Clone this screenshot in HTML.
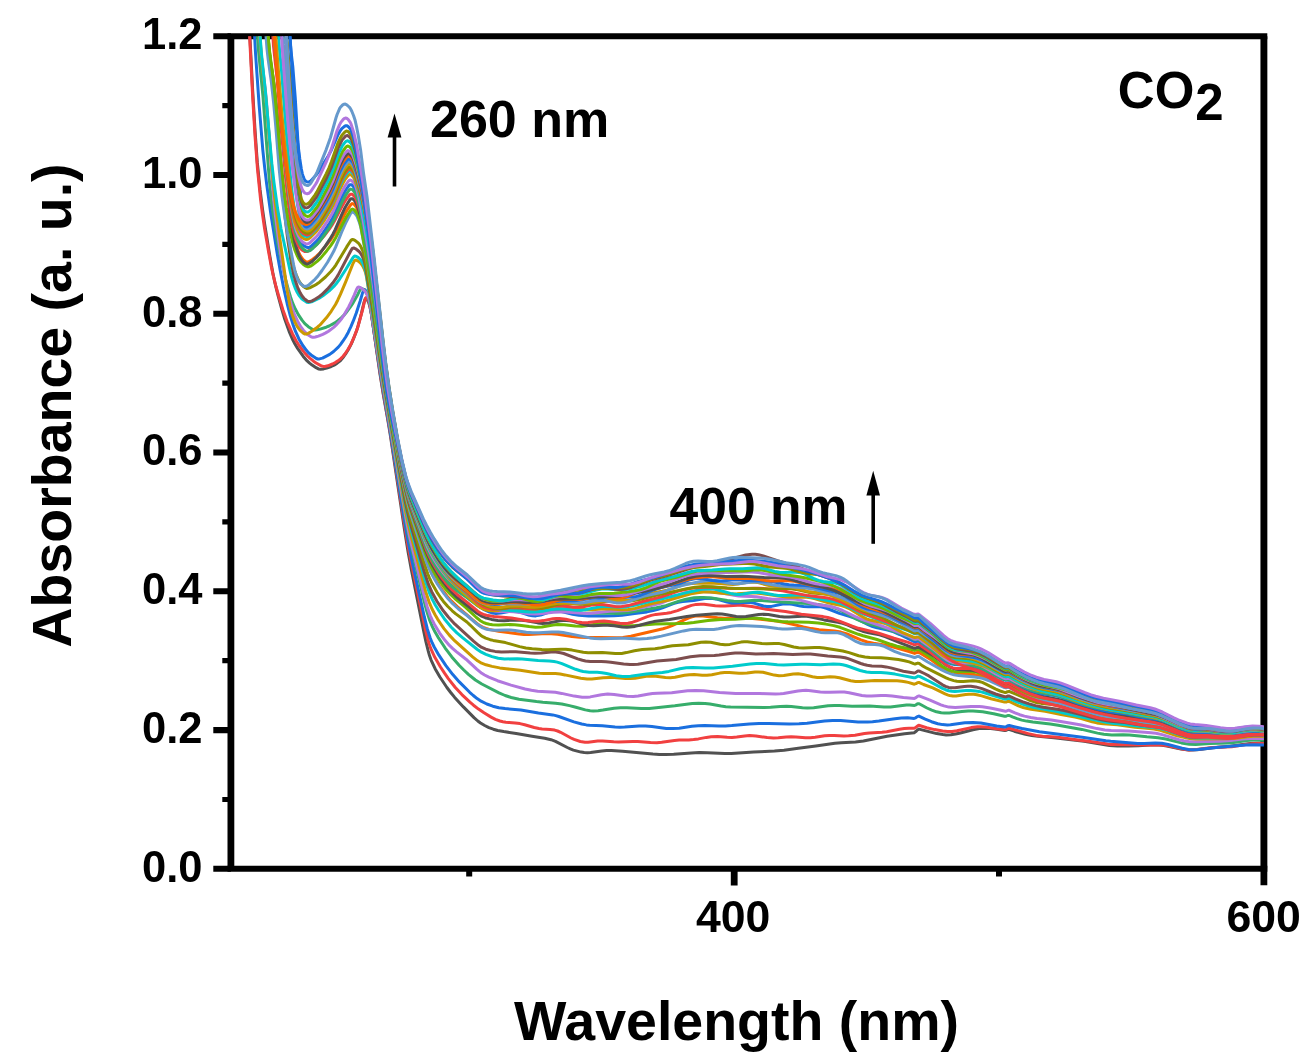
<!DOCTYPE html>
<html lang="en"><head><meta charset="utf-8"><title>UV-Vis absorbance spectra - CO2</title>
<style>html,body{margin:0;padding:0;background:#fff}body{width:1314px;height:1063px;overflow:hidden}svg{display:block;filter:blur(0.5px)}</style>
</head><body>
<svg width="1314" height="1063" viewBox="0 0 1314 1063">
<defs><clipPath id="plot"><rect x="230.9" y="36.3" width="1033.0" height="832.5"/></clipPath></defs>
<rect width="1314" height="1063" fill="#fff"/>
<g stroke="#000" fill="none" stroke-linecap="butt">
<path stroke-width="6.1" d="M227.5 36.3H1267.3"/>
<path stroke-width="6.0" d="M227.5 868.8H1267.3"/>
<path stroke-width="6.8" d="M230.9 36.3V868.8"/>
<path stroke-width="6.9" d="M1263.9 36.3V868.8"/>
<path stroke-width="6.1" d="M213.3 36.3H230.9M213.3 175.0H230.9M213.3 313.8H230.9M213.3 452.5H230.9M213.3 591.3H230.9M213.3 730.1H230.9M213.3 868.8H230.9"/>
<path stroke-width="5.2" d="M222.3 105.7H230.9M222.3 244.4H230.9M222.3 383.1H230.9M222.3 521.9H230.9M222.3 660.7H230.9M222.3 799.5H230.9"/>
<path stroke-width="6.8" d="M734.2 868.8V885.4M1263.9 868.8V885.2"/>
<path stroke-width="6.0" d="M469.2 868.8V876.4M999.0 868.8V876.4"/>
</g>
<g clip-path="url(#plot)" fill="none" stroke-width="3.0" stroke-linejoin="round" stroke-linecap="round">
<path stroke="#515151" d="M248.5 9L252.7 91.2L255.1 131.4L257.3 162.4L260.1 190L262.5 209.2L264.6 223.6L269.7 255.3L272.8 272.7L275.1 283.7L277.8 294.6L281.6 308.5L284.8 319.2L289.1 331.3L292.9 340.1L295.1 344.3L297.6 348.4L303.1 356.2L306.1 359.8L309.6 363.1L312.1 365.1L316.1 367.7L318.9 369.1L320.4 369.3L323.6 368.9L326.7 368.1L331.2 366.5L334.1 365.1L336.9 363.4L339.5 361.4L340.7 360.3L342.8 357.8L345.6 353.9L348.2 349.8L351.2 344.1L353.7 338.2L356.6 330.7L358 326.2L361.3 313.8L363.9 302.9L364.8 299.8L365.5 298.6L367.1 299.6L368.7 302.5L370 307.1L371.5 314.7L379.9 373.3L383.2 394L387.7 419.2L390.3 434.9L404.5 529.8L408.1 552L411.3 569.4L423.9 632.1L425.9 641.6L428.2 650.9L429.5 655.6L431.1 660.1L435.1 668.7L439.9 677L446.9 687.5L450.7 692.5L454.7 697.4L463.4 706.9L474 717.6L477.8 721L480.5 723L484.7 725.5L488.9 727.6L493.3 729.2L497.7 730.5L503.7 731.6L516.2 733.5L532 736.3L544.7 738.3L551 739.7L555.5 741.3L567.3 747.5L570.3 748.9L573.4 750.1L581.1 752.1L584.2 752.5L587.4 752.7L590.6 752.4L601.8 750.9L606.6 750.6L611.4 750.6L622.6 751.2L652.9 754.1L659.3 754.4L665.7 754.4L673.7 754.2L691.3 752.9L699.3 752.6L707.3 752.7L724.9 753.5L731.3 753.5L753.7 752L774.5 751.1L784 750.2L798.3 748.2L815.8 746L834.9 743.2L841.3 742.7L855.5 741.9L863.4 741L887.1 736.2L904.6 733.7L914.2 732.7L915.8 731.6L917.4 730L919 729.1L936.6 733.6L942.9 734.6L946.1 734.9L950.9 734.7L955.6 734L960.4 733L972.9 729.7L979.3 728.6L985.7 728.3L990.5 728.5L996.9 729.2L1004.8 730.5L1006.4 730.2L1008 729.4L1009.6 729.5L1014.3 731.2L1020.7 733.1L1025.4 734.3L1031.7 735.4L1038.1 736.3L1053.9 737.8L1084.1 741.3L1109.4 745.4L1117.4 745.9L1128.6 746.1L1138.2 745.8L1154.2 744.8L1159 744.9L1162.2 745.2L1166.9 746L1181.1 749.1L1189 750L1197 749.7L1212.9 747.8L1230.3 746.2L1246.3 744L1252.7 743.3L1259.1 743L1268.7 742.9"/>
<path stroke="#F14040" d="M248.2 9L252.8 99.2L255.1 137.1L257.5 169.1L260.6 199.8L262.5 214.3L264.6 228.7L268.4 250.8L271.3 266.6L273.4 276.1L276.1 287L279.2 297.7L283 310L287.3 322L292.4 333.7L296.1 340.7L298.7 344.8L301.4 348.7L304.4 352.4L307.5 356L309.8 358.2L313.5 361.2L316.1 363L320.3 365.4L321.7 366L323.2 366.4L324.8 366.5L327.9 365.8L332.4 364L335.3 362.6L338 360.8L340.5 358.8L342.9 356.5L344.9 354L347.6 350L350.1 345.8L352.2 341.5L354.7 335.5L357.5 328L359.3 321.9L362.6 309.6L364.4 301.8L365.4 298.7L366.1 297.5L367.7 299L368.4 300.5L369.4 303.5L371.2 312.8L380.3 374.5L383.4 393.5L390.3 432.9L404.2 523L407.6 543.6L411.2 562.5L423.8 622L425.5 629.9L427.8 639.2L429.2 643.9L430.7 648.4L434.7 657.1L440.3 666.7L444.7 673.4L448.3 678.6L455.3 687.5L461.9 694.6L469.9 702.2L473.5 705.2L478.5 709.1L484 712.8L491.1 717.1L495.4 719.3L499.9 721L502.9 721.7L505.9 722.2L515.2 722.9L519.9 723.6L524.7 724.7L534.2 727.5L538.9 728.5L542.1 728.9L550 729.4L554.6 730.1L557.6 731L560.6 732.3L571 738L574.1 739.4L580.3 741.5L585 742.2L588.1 742.3L597.7 741.1L602.5 740.9L613.7 741.8L618.5 742L632.9 741.4L637.7 741.4L650.5 742.6L656.9 742.7L661.7 742.2L674.5 740.4L679.2 740.1L688.8 740L693.6 739.6L698.4 738.9L706.4 737.4L711.2 736.8L717.6 736.6L727.2 737.3L732 737.4L736.8 737L744.7 736L749.5 735.6L755.9 735.9L767.1 737.6L773.5 738L778.3 737.8L786.3 737L791.1 736.8L795.9 737L805.5 737.7L810.3 737.7L815.1 737.2L824.7 735.8L829.5 735.4L834.3 735.4L843.9 735.9L848.6 735.8L855 735.2L864.5 733.6L869.3 733L882 732.2L886.7 731.7L899.5 729.3L904.3 728.6L909.1 728.2L913.9 728.3L915.5 727.7L917.1 726.3L918.7 725.3L926.6 727.7L934.6 729.6L942.6 731L947.4 731.4L952.1 731.4L956.9 730.8L971.2 727.6L977.5 726.7L980.7 726.7L985.5 727.1L996.7 728.8L1004.6 729.7L1006.2 729.5L1007.8 728.5L1009.3 728.2L1028.3 733.6L1036.2 735.4L1042.6 736.2L1055.3 737L1061.6 737.7L1075.9 739.7L1088.6 741.2L1107.6 744.1L1110.8 744.5L1115.6 744.6L1130 744.7L1146 745.1L1155.6 744.8L1161.9 745L1168.3 745.8L1182.4 749L1188.7 749.9L1196.7 749.6L1206.3 748.3L1212.6 747.6L1231.7 746.7L1236.5 746L1246 744.4L1252.4 743.7L1258.8 743.5L1268.4 743.6"/>
<path stroke="#1A6FDF" d="M253.2 9L255.5 53L259.1 104.7L262.8 149.8L264.5 166L266.6 183.6L270.6 212.4L277.2 253.5L280 269.3L283.4 286.6L287.2 303.8L290 314.7L292.8 323.9L295.5 331.4L298.8 338.7L302.8 345.5L306.6 350.6L308.7 352.9L311.1 355L316.4 358.5L317.8 359L319.4 358.9L322.5 358.1L329.7 354.4L333.6 351.5L338.3 347.1L340.4 344.6L343.2 340.7L345.8 336.7L348.2 332.4L350.9 326.6L353.4 320.7L356.2 313.2L360.2 301L362.4 293.3L363.6 290.4L364.5 289.5L366 290.8L366.8 292.3L367.5 293.8L368.4 296.9L370.3 306.1L381 377.3L389.6 427.8L404.6 521L407.3 536.8L411.9 560.4L424.3 616.7L427.4 629.2L430.3 638.3L432.1 642.7L434.2 647L438.9 655.2L445.9 665.7L452.8 674.6L459.3 681.9L469.7 692.3L473.3 695.5L477.1 698.6L481.1 701.2L486.8 704L492.8 706.2L498.8 707.7L505 708.6L520.9 710L538.4 712.9L552.7 714.9L555.8 715.6L558.8 716.5L573.9 721.9L581.7 724L586.4 724.9L589.5 725.3L602.3 725.8L615.1 727L619.9 727.2L624.7 727.1L639.1 726L645.5 725.9L651.9 726.4L666.3 728.4L672.7 728.6L679.1 728.2L691.9 726.3L698.3 725.7L704.6 725.5L719 726L725.4 725.9L731.8 725.5L749.4 723.9L759 723.4L768.6 723.4L789.4 723.9L799 723.8L807 723.2L824.6 721.1L832.6 720.5L840.6 720.5L858.1 721.9L867.7 722.1L872.5 721.8L878.9 721.1L894.9 718.7L901.3 717.9L907.7 717.8L914.1 718.4L915.7 717.8L917.3 716.6L918.9 716.1L925.2 719.1L931.5 721.7L937.8 723.7L942.5 724.6L947.3 724.9L950.5 724.8L964.9 722.8L972.9 722.4L980.9 723L996.7 725.9L1004.6 727L1006.1 726.7L1007.7 725.7L1009.3 725.5L1014.1 726.7L1022 728.5L1039.4 731.7L1082.3 737.2L1105.9 740.8L1110.7 741.3L1137.8 743.4L1144.2 743.5L1155.4 743L1161.8 743.3L1168.1 744.5L1182.1 748.3L1188.4 749.5L1193.2 749.7L1198 749.6L1218.7 747.3L1245.8 744.9L1253.8 744.8L1268.2 745.2"/>
<path stroke="#37AD6B" d="M256.2 9L257.4 34.8L258.5 50.7L263 96.9L269.3 179.7L271.4 201.1L275 226.7L277 239.4L279.1 250.5L281.8 263.1L285.8 280.2L288.3 289.5L290.6 297.2L292.7 303.2L295.3 309L298.3 314.6L301.8 319.9L304.8 323.6L308.3 326.7L312.3 329.3L313.8 329.9L315.3 330L316.9 329.8L320.1 329.1L326.2 327.2L329.1 326L334.8 322.9L337.5 321L341.2 317.9L343.5 315.7L345.6 313.3L350.4 306.8L353.1 302.8L357.8 294.4L359.9 290.1L360.8 288.9L362.1 288.6L363.6 289.5L365.8 291.9L366.7 293.4L368.4 297.9L370 303.9L381.8 379.8L389.3 422.4L406.6 525L409.1 537.6L411.6 548.5L423.8 599.9L426.2 609.2L429.5 619.9L432.7 627.3L434.8 631.5L438 637.1L445 647.8L451.8 656.9L459.3 665.5L463.8 670L468.4 674.3L475.4 680L481.8 684L499 692.8L505.1 695.5L511.2 697.5L519 699.2L536.5 701.6L542.8 702.3L555.5 703.2L561.8 704L569.5 705.6L575.8 707.2L585.3 709.9L590.1 710.8L593.3 711L598.1 710.8L602.9 710.1L614.1 708.2L620.5 707.7L626.9 707.7L641.3 708.6L649.3 708.4L674.8 705.8L692.3 703.6L698.7 703.2L705.1 703.5L709.9 704.1L721.1 706.1L725.8 706.7L730.6 707L764.1 707.5L770.5 707.2L780.1 706.4L786.5 706.2L791.3 706.5L802.5 707.7L807.3 708L813.7 707.7L828.1 705.7L834.5 705.4L839.3 705.5L852.1 706.2L869.7 706.1L884.1 706.9L890.5 706.9L906.5 705.1L909.7 705L914.5 705.5L916 704.8L917.6 703.7L919.2 703.7L927 708L931.8 710.1L936.5 711.8L941.2 712.8L944.4 713.1L949.2 713.1L961.9 711.5L968.3 711.1L973.1 711.1L982.7 711.8L993.7 713.7L1004.6 716.3L1006.1 716.2L1007.7 715.5L1009.3 715.5L1012.4 716.9L1017.1 718.6L1021.8 720.1L1026.6 721.1L1032.8 722.1L1050.2 724L1058.2 725.2L1081.9 729.4L1097.5 733.1L1103.8 734.3L1111.8 735L1123 734.8L1129.4 735L1146.9 736.8L1158.1 737.7L1165.9 739L1181.4 742.9L1189.3 744.3L1195.7 744.5L1210 743.6L1229.2 743L1235.6 742.3L1246.7 740.6L1253.1 740.1L1259.5 740.1L1269.1 740.5"/>
<path stroke="#B177DE" d="M258.7 9L259.7 34.7L260.7 49L262 62.2L265.1 87.6L266.5 101.5L269.8 144.6L272.6 186.9L275.1 213L278.6 240.2L280.5 253L282.4 264.1L285.7 281.4L288 292.4L290.4 301.8L292.7 309.5L294.9 315.4L297.6 321.2L300.7 326.7L303.5 330.5L306.8 333.9L310.7 336.6L312.1 337.2L313.7 337.3L315.3 337L318.4 336.1L322.8 334.3L325.7 332.9L328.5 331.2L333.7 327.4L336 325.2L339.3 321.6L341.3 319.1L344 315.1L348.8 306.7L350.9 302.4L354.2 295.1L356.7 289.2L357.4 287.8L358.5 287L360.1 287.4L361.5 288.2L364 290.3L365.1 291.5L366.9 294.3L368.9 298.7L369.4 300.3L370 303.2L382.2 380.7L406.5 521.1L409 533.7L411.5 544.6L424.2 595.9L427.2 606.7L430.3 615.8L432.3 620.1L434.5 624.4L439.5 632.8L445.2 640.6L449.4 645.4L452.8 648.6L456.3 651.6L466 659.2L476.7 669.2L481.8 673.3L484.6 675L488.8 677.2L497.5 680.7L511 685.1L525.1 689L531.4 690.3L537.7 691.2L555.3 692.3L561.6 693.4L574.2 696.1L582.2 697.2L587 697.3L590.2 696.9L601.4 694.7L607.7 694L614.1 694.4L626.9 696.3L633.3 696.4L638.1 695.9L647.7 694.2L652.5 693.6L657.3 693.3L671.7 692.8L687.6 690.8L695.6 690.4L703.6 690.8L719.6 692.4L735.6 693.4L745.2 693.6L759.6 693.5L775.6 694L780.4 693.8L783.6 693.5L797.9 690.9L802.7 690.4L805.9 690.3L810.7 690.7L820.3 691.9L825.1 692.3L829.9 692.3L839.5 691.9L844.3 692.1L849.1 692.7L861.9 695.5L866.7 696.1L871.5 696.1L881.1 695.6L885.8 695.6L892.2 696.1L903.4 697.5L914.4 698.4L916 697.6L917.5 696.4L919 695.9L930 700.2L940.9 704.8L944 705.9L948.8 707.1L955.2 707.4L971.1 706.4L979.1 706.6L982.3 706.8L990.2 708L996.3 709.2L1005.6 711.3L1008.7 710.2L1015 712.9L1019.7 714.7L1024.4 716.1L1030.7 717.5L1037 718.4L1051.3 720L1060.8 721.4L1081.3 725L1097 728.6L1104.8 729.9L1111.2 730.4L1128.7 731.1L1151.1 732.8L1155.9 733.3L1162.1 734.6L1179.1 739.8L1183.8 740.8L1188.5 741.6L1194.8 741.8L1206 741.4L1220.4 741.3L1230 740.6L1242.8 738.9L1249.2 738.4L1255.6 738.2L1268.4 738.5"/>
<path stroke="#CC9900" d="M258.9 9L260 37.5L261.3 55.1L262.4 66.6L265.7 96.5L272.5 176.2L274.6 197.3L279.2 234L287.3 291.2L289.9 305.6L291.4 311.8L292.8 316.4L295.1 322.4L297.3 326.6L300.1 330.4L303.6 333.4L305 334L306.6 333.9L308.2 333.4L311 331.8L316.3 328.1L318.8 326L321.1 323.8L326.4 317.8L331.2 311.3L335.5 304.5L337.7 300.2L340.4 294.4L346 281.1L353.1 263.3L354.6 260.6L355.8 260L357.3 260.6L358.7 261.5L361.1 263.7L363 266.5L364.4 269.4L365.5 272.4L366.5 276.9L372.9 316.4L383.4 384.4L405.5 510.6L408.1 523.1L411 535.7L425.6 591.4L429.1 602L432.2 609.3L435.2 615L437.6 619.1L440.3 623.2L444 628.6L449.1 634.9L454.6 640.7L472.6 656.8L477.6 660.8L481.6 663.2L486 664.8L492 666.4L499.7 667.9L506 668.7L520.3 670.3L539.4 673.3L544.2 673.6L555.4 673.6L560.2 674.1L564.9 674.9L580.8 678.2L587.1 679L591.9 678.9L603.1 677.8L609.5 677.5L614.3 677.6L625.5 678.5L630.3 678.6L635.1 678.2L646.3 676.3L651.1 676L655.9 676.2L665.5 677.5L670.3 677.7L675 677.3L684.6 675.3L689.4 674.7L694.2 674.6L702.2 675.2L707 675.3L711.8 674.7L719.8 673.1L724.6 672.4L729.4 672.4L739 673.2L742.2 673.3L747 673L755 672L758.2 671.9L763 672.3L774.2 675.1L779 675.8L783.8 675.6L793.3 673.9L798.1 673.7L802.9 674.4L812.5 676.8L817.3 677.5L822 677.5L830 676.8L834.7 676.9L839.5 677.7L850.7 680.7L855.5 681.4L860.3 681.5L874.7 680.6L897.1 680.8L901.8 681.2L905 681.7L908.2 682.4L914.4 684.2L915.9 683.7L917.4 682.7L918.9 682.4L923.5 684.5L932.8 687.9L945.1 693.9L948.2 695.1L949.7 695.5L952.9 696L956.1 695.9L965.7 694.5L968.9 694.2L973.7 694.3L976.9 694.8L981.7 695.9L991 698.7L1004.6 702.1L1006.1 702.1L1007.7 701.4L1009.2 701.4L1018.5 705.8L1023.2 707.5L1026.3 708.3L1031 709.3L1045.2 711.3L1061 714.5L1075.1 717.1L1081.3 718.5L1092.2 721.8L1096.9 722.9L1103.2 723.8L1117.4 724.7L1135 727.2L1149.3 728.4L1154 729L1160.3 730.4L1177.1 735.7L1189.5 738.5L1195.9 739L1227.9 738.7L1235.8 738.2L1247 736.7L1253.4 736.2L1259.8 736.2L1269.4 736.6"/>
<path stroke="#00CBCC" d="M258.9 9L260.1 35.8L261.4 53.1L265.2 89.7L271.8 163.2L274 182.6L277.5 208.1L281 228.8L290.5 272.6L292.1 278.9L293.5 283.5L295.2 288L297.2 292.3L298.8 295L301.8 298.7L304.2 300.6L306.8 302.3L308.4 302.5L311.5 301.8L318.8 298.4L322.9 295.8L329.2 290.9L333.8 286.4L337 282.7L339.8 278.8L345.9 269.3L352.5 258.4L353.4 257.1L354.5 256.1L356 256.2L357.5 257L358.8 258L361.1 260.3L362.8 263.1L365.2 269.1L366.2 273.6L372.9 314.6L383.8 384.2L397.4 461.5L405.2 504L407.9 516.6L410.9 529.1L425 580L429.1 592.1L432.3 599.4L435.3 605L438.7 610.5L445.1 619.8L451.3 627.2L456.9 632.9L462.8 637.9L477.4 649.5L481.4 652.2L485.9 654.3L492 656.6L498.2 658.2L504.6 658.9L517.3 658.8L522.1 658.9L538.1 660.6L549.3 661.1L554 661.5L557.2 662.1L561.9 663.6L575.6 669.3L580.2 670.8L583.2 671.5L589.3 672.2L597.2 672.3L601.9 672.7L606.6 673.5L616.2 675.7L622.6 676.6L627.4 676.5L630.6 676.2L646.5 673.9L662.4 672.5L668.8 671.4L679.9 668.8L686.2 667.8L692.6 667.5L705.3 668.1L713.3 667.9L732.5 666.2L750.1 664L756.5 663.5L764.5 663.5L777.3 664.7L783.7 664.9L801.3 664.2L806.1 664.2L820.4 664.7L833.2 664.1L839.5 664.3L842.7 664.8L845.9 665.5L849 666.5L860.1 670.5L863.3 671.3L866.5 672L871.3 672.4L880.8 672.5L887.1 672.9L895 674.1L913.7 677.7L915.2 677.7L918.1 676.1L919.6 676.4L928.7 681L942.5 688.4L945.5 689.7L948.6 690.7L951.8 691.2L954.9 691.4L966.1 690.6L970.9 690.6L975.7 690.9L978.9 691.4L982.1 692.1L986.7 693.5L1004.8 699.1L1006.4 699L1007.9 698.3L1009.4 698.5L1015.6 701.3L1023.4 704.4L1028 705.9L1034.2 707.5L1056.2 711.2L1073.5 715.3L1106.2 722.2L1112.6 723.2L1125.3 724.5L1141.2 726.6L1155.5 727.8L1160.2 728.5L1166.3 730.1L1180.1 734.8L1186.2 736.6L1189.4 737.4L1195.7 737.9L1206.9 737.8L1224.5 738.2L1232.5 737.7L1245.3 735.6L1250.1 735.1L1256.5 735.1L1269.3 736"/>
<path stroke="#7D4E4E" d="M267 9L267.9 34.6L268.9 47.2L270.5 62.1L274.1 85.6L276.4 107.5L278.5 132.5L281.8 180.4L285.3 219.1L287.6 238.5L290.7 259.2L293.4 273.5L296 282.8L297.6 287.3L300.3 293.1L301.9 295.8L303.9 298.2L305 299.3L307.5 301.2L309 301.6L310.6 301.4L312.1 300.9L315 299.3L319 296.8L321.6 294.8L327.4 289.2L332.7 283.1L335.5 279.2L338.1 275.1L350.7 251L352.3 248.4L353.7 248L355.2 248.6L356.6 249.5L359.1 251.5L360.2 252.8L362 255.6L363.3 258.5L364.4 261.5L365.4 266.1L372 305.5L381.2 365.6L384.5 386.2L394.5 442.9L404.9 499.6L407.6 512.2L410.7 524.7L424.4 572.3L428.5 584.4L431.7 591.7L437.1 601.5L443.3 610.8L448.3 617L454.7 623.9L473.5 641.2L478.6 645.3L481.3 647.2L485.8 649.2L490.4 650.5L495.1 651.4L501.4 651.9L515.8 651.8L530.2 653.1L535 653.3L541.4 653.1L551 652L555.8 652L560.5 652.7L563.7 653.5L577.7 658.9L582.4 660.3L585.5 661L590.2 661.5L601.2 661.4L606 661.7L610.8 662.2L623.6 664.1L630 664.6L633.2 664.6L637.9 664.3L657.1 661L676.1 659.4L690.4 656.8L695.2 656.2L700 655.8L714.3 655.5L719.1 655.1L730.3 653.5L735.1 653.1L741.5 653.1L755.9 654L773.5 653.5L792.7 654.5L805.5 654.1L810.3 654.1L815 654.5L827.7 655.9L840.3 656.9L845.1 657.7L848.2 658.6L860.8 663.5L864 664.5L867.2 665.3L871.9 665.9L881.4 666.3L886.1 666.9L890.8 667.9L903.3 671.2L914 673L915.5 672.6L916.9 671.6L918.3 670.9L919.8 671.3L924.3 673.5L928.9 675.9L942.5 684.8L945.5 686.3L948.6 687.4L951.7 687.8L954.9 687.8L964.5 686.5L967.7 686.2L970.9 686.2L975.7 686.9L982 688.6L995.6 694L1004.6 696.8L1006.1 696.8L1007.6 696.1L1009.2 696L1015.3 698.8L1023 701.8L1029.2 703.9L1035.5 705.6L1043.3 707.2L1057.5 709.3L1065.3 710.7L1080.9 714.5L1094.8 718.4L1102.6 720.1L1110.5 721.3L1124.8 722.6L1142.3 725.3L1155 726.7L1159.7 727.4L1162.8 728.1L1167.3 729.5L1181 734.5L1188.7 736.7L1191.9 737.1L1195.1 737.2L1206.3 736.4L1211.1 736.3L1230.3 737.4L1236.6 737L1247.8 735.4L1252.6 734.9L1259 734.8L1268.6 735.3"/>
<path stroke="#8E8E00" d="M267.1 9L268 34.3L268.8 45.3L270.4 60.3L273.8 82.2L276.1 104.2L278.2 127.6L281.7 176L285 211.6L287.3 230.9L290.1 250.1L292.6 262.8L293.7 267.5L295.2 272.1L296.3 275.1L298.2 279.4L299.7 282.2L301.6 284.7L303.9 286.8L305.2 287.7L306.6 288.4L308.1 288.3L309.7 287.9L314 285.7L316.8 284.1L319.5 282.2L325.5 277L331.1 271.2L334.2 267.4L336 264.8L346.7 246.9L351 240.3L352.2 239.5L353.8 239.8L355.3 240.6L357.8 242.6L359 243.8L360.8 246.6L362.2 249.5L363.4 252.5L364.7 258.6L370.9 294.8L381.2 362.8L386.4 394.5L394.8 441.8L404.6 493.7L407.3 506.3L410.5 518.7L423.6 561.6L427.7 573.7L429.5 578.1L431.5 582.4L436.9 592.1L440.5 597.5L443.4 601.4L447.6 606.3L452.2 610.8L455.8 613.9L466.9 622L470.4 625.3L477.6 632.4L481.4 635.8L482.8 636.7L485.7 638.2L490.2 639.7L493.2 640.4L505.4 642.6L519.6 646.6L525.9 648L532.2 648.8L541.8 649.6L548.2 649.7L561 649.2L565.8 649.3L572.1 650.1L583.3 652.3L588.1 652.8L602.5 652.4L615.3 653.5L618.5 653.6L621.7 653.4L626.4 652.6L634.4 650.7L639.2 649.9L642.3 649.5L655 648.8L659.8 648.1L667.7 646.5L672.4 645.8L688.3 644.7L701 642.3L705.8 641.9L710.6 642.3L720.2 644.3L725 644.8L729.8 644.4L741 642.1L744.2 641.8L747.4 641.8L761.8 643.6L766.6 643.7L774.6 643.4L779.4 643.6L784.2 644.5L793.8 647L798.6 647.7L803.3 647.9L814.5 647.4L819.2 647.5L823.9 648L836.5 649.9L842.8 651L849.1 652.6L858.6 655.7L865 657L869.8 657.5L880.9 657.7L887.2 658.3L898.3 659.6L904.6 660.7L909.2 661.9L913.6 663.6L915.1 664L917.9 663.1L919.3 663.5L922.2 665.6L926.7 668.2L946.1 677.8L949.1 679.1L953.7 680.6L956.9 681.2L960.1 681.4L963.3 681.4L972.9 680.8L976 681L979.2 681.5L982.3 682.4L985.4 683.8L995.8 689.2L1000.2 691L1004.6 692.4L1006.1 692.4L1007.6 691.7L1009.1 691.4L1018.3 695.2L1029 700L1035.2 702.2L1041.4 703.4L1052.4 704.5L1057.1 705.3L1061.8 706.5L1075.8 710.8L1088.1 713.6L1102.1 717.3L1108.4 718.7L1113.1 719.4L1130.6 721.2L1152.8 724.2L1157.5 725L1160.6 725.7L1165.2 727L1180.3 732.6L1189.5 735.3L1192.7 735.8L1195.9 736L1213.5 735.7L1231.1 736.5L1237.5 736L1248.7 734L1253.5 733.5L1259.9 733.6L1269.5 734.6"/>
<path stroke="#FB6501" d="M273.1 9L274.1 35L274.8 46.2L275.7 56.3L277.9 73.8L279 86.1L281.5 116.1L284.3 154.2L287.3 188L289.4 207.4L292.1 226.7L294.6 239.4L296.7 247.2L297.8 250.2L299.7 254.6L301.3 257.3L303.2 259.7L305.7 261.6L307.1 262L308.7 261.7L311.6 260.1L316.6 256.2L320.1 252.8L326.3 245.4L331.2 239L335.5 232.2L341.9 219.3L345.7 212.3L347.4 209.6L351 204.4L352.2 203.6L353.8 204L355.9 206.5L356.8 208.1L358.4 212.6L360.3 220.3L364.7 243.8L367.4 259.5L371.2 284.7L382.8 367.1L386.5 390.9L391.1 417.8L397.1 450.9L404.2 487L407 499.6L410.3 512L421.7 547L425.8 559.1L430 569.4L432.2 573.7L436.1 580.6L439.6 586L443.3 591.3L447.3 596.4L451.6 601.2L457.3 606.7L477.7 624.1L480.3 625.9L483.1 627.4L486.1 628.5L489.1 629.4L498.5 631.2L519.2 634L524 634.4L528.8 634.4L546.4 633.6L551.2 633.7L557.6 634.3L571.9 636.6L579.8 637.3L587.8 637.6L600.5 637.4L616.5 637.8L622.9 637.5L630.8 636.3L663 628.8L667.5 627.4L672.1 625.6L684.3 619.8L688.9 617.9L692 616.9L696.7 615.9L699.9 615.8L703.1 615.9L717.5 617.8L723.9 618.3L743 618.2L752.6 618.6L760.6 619.3L776.5 621L786 622.7L803.4 626.9L811.3 628.6L819.1 629.7L834.6 631L840.8 632.1L847 634L860.9 639.9L867.2 642L873.5 643.3L884.4 645L890.6 646.4L907.4 651L914.6 653.4L917.3 652.4L918.7 652.2L931.9 660.3L944.9 670.1L947.8 671.9L950.8 673.3L953.9 674.1L957 674.5L971.3 674.3L974.5 674.6L979.2 675.5L982.3 676.4L986.8 678.3L996.9 683L1004.1 686.1L1005.6 686.5L1008.6 685.8L1017.6 690.6L1023.7 693.6L1028.3 695.6L1032.9 697.2L1040.6 699.1L1054.6 701.4L1060.8 702.8L1093.2 712.7L1100.9 714.8L1105.6 715.8L1110.4 716.5L1123 717.7L1129.4 718.5L1157.8 723.1L1162.4 724.3L1166.9 725.8L1182 731.8L1188.1 733.8L1191.3 734.3L1196 734.6L1208.8 734.4L1223.2 735.4L1228 735.6L1234.4 735.2L1245.6 733.6L1252 733.1L1256.8 733.1L1268 733.6"/>
<path stroke="#6699CC" d="M264.9 9L266 35.8L266.9 48L268.2 59.6L271.3 81.6L273.7 103.7L275.7 125.5L279.2 169.1L282 196.5L284.6 215.8L287.5 233.3L293.6 264.8L295 271.1L296.3 275.7L298.1 280.1L299.8 282.8L300.8 283.9L302 284.9L303.2 285.9L304.6 286.5L306.2 286.3L307.7 285.7L309.1 284.7L315 279.3L318.2 275.7L322 270.5L327.4 262.5L331.4 255.5L333.7 251.3L335.7 246.9L341.7 232L345.5 223.3L350.7 213.4L351.6 212.3L353 212.1L354.5 213.1L355.6 214.3L356.6 215.6L357.4 217.1L359.1 221.6L360.9 227.7L366.9 260.6L371.3 289L382.9 369.8L386.7 393.6L391.4 420.4L397.5 453.5L404.3 488L407.1 500.6L410.4 513L421.7 548L426.3 561.6L428.7 567.6L430.6 571.9L433.6 577.6L436.8 583.1L440.4 588.5L444.2 593.9L448.3 599L452.7 603.7L458.5 609L467 615.5L476.7 623.8L479.3 625.8L482 627.5L485 628.7L488.1 629.6L491.3 630L496 630.3L505.5 629.9L510.3 629.9L515.1 630.4L526.3 632.2L532.7 632.8L539.1 632.7L551.9 631.9L558.3 632.1L563.1 632.6L567.9 633.4L589.9 637.9L594.6 638.5L601 638.8L620.1 638.3L624.9 638.3L639.2 638.9L647.1 638.6L653.4 637.7L661.4 636.1L683.5 630.9L689.8 629.8L696.1 629.3L708.9 629.6L713.7 629.4L718.5 628.8L731.2 626.3L736 625.8L739.2 625.6L745.6 625.7L761.6 626.5L766.4 627L777.6 628.6L782.4 629L787.2 629.1L796.8 628.5L801.6 628.6L806.4 629.2L815.9 631.5L820.6 632.4L825.3 632.7L834.6 632.5L837.7 632.8L840.8 633.5L843.9 634.7L847 636.3L856.3 641.7L861 643.5L865.6 644.3L874.9 644.4L879.6 645L884.2 646.4L895 651.7L901.1 653.9L910.1 656.1L914.4 657.5L915.8 657.2L917.1 656.5L918.5 656.3L927.3 661.8L940.6 669.3L946.4 672.2L950.9 673.9L954 674.7L958.7 675.6L974.7 677L979.4 677.7L982.5 678.4L988.5 680.5L1004.5 687.6L1006 687.9L1007.5 687.4L1009 687.4L1015 690.7L1022.6 694.6L1027.2 696.6L1031.8 698.3L1034.9 699.1L1039.5 700.1L1052 701.7L1058.2 702.9L1064.4 704.7L1076.8 708.9L1093.7 713.6L1099.9 715.2L1107.7 716.7L1125.2 718.8L1142.6 721.9L1153.7 723.4L1158.3 724.2L1161.4 725L1165.9 726.5L1176.5 730.7L1181 732.2L1187.2 734L1190.3 734.5L1195 734.8L1206.2 734.8L1220.6 735.9L1227 736.1L1233.4 735.8L1246.2 734.1L1252.6 733.5L1259 733.4L1268.6 733.9"/>
<path stroke="#6FB802" d="M267 9L268 33.3L269 45.8L270.1 55.8L272.7 74.8L274.1 87.2L276.9 115.6L280.4 155.6L283.9 189.3L286.4 208.6L289.5 227.7L292.1 240.4L293.3 245.1L294.7 249.6L297.1 255.5L299.3 259.7L301.2 262.3L303.4 264.5L306 266.2L307.4 266.7L309 266.7L310.6 266.1L312 265.3L317.1 261.4L320.6 258.1L326.8 250.7L330.7 245.6L333.4 241.6L335.9 237.4L342.3 224.5L346 217.5L350.3 210.7L351.2 209.6L352.5 209L354.1 209.8L356.2 212.3L357.1 213.8L358.8 218.3L360.5 224.4L367.2 260.4L371.4 287.2L383 368L387 393.4L391.1 417.1L397 448.6L404.2 484.7L406.7 495.7L410 508L421.2 541.4L426 555L430.4 565.2L433.4 570.9L436.7 576.4L440.2 581.8L443 585.7L447 590.7L450.3 594.2L454.8 598.5L465.6 607.4L476.4 617.5L480.3 620.7L483.1 622.3L486.2 623.5L489.3 624.3L492.4 624.8L498.7 625.1L509.9 624.5L514.7 624.7L519.5 625.2L529.1 626.6L535.5 627.2L541.9 626.9L553 624.9L557.8 624.5L564.2 624.7L575.4 626.1L581.8 626.2L588.2 625.5L597.8 623.8L604.2 623.3L610.6 623.7L620.2 625.1L625 625.6L632.9 625.7L655.3 623.9L679.3 623.6L687.3 623.3L693.7 622.6L708 620.6L714.4 619.9L720.8 619.6L735.2 619.3L752.8 618.1L760.8 618.4L775.2 620.7L781.6 621.4L788 621.8L808.7 622.3L818.1 623.1L825.9 624.1L833.7 625.6L839.9 627.3L858.4 634.3L863.1 635.7L877 639.5L890.9 644.3L897 646.2L909 648.8L914.7 650.4L917.4 649.4L918.7 649.3L930.3 657L943.4 666.9L947.7 669.5L950.7 670.7L953.7 671.4L956.9 671.7L966.4 671.4L971.1 671.5L974.3 671.9L979 672.9L982.1 674L986.7 675.9L996.7 681.1L1003.9 684.4L1005.4 685L1008.4 684.3L1021.9 691.1L1028 693.7L1032.6 695.3L1037.2 696.7L1041.8 697.7L1057.4 700.4L1063.6 701.8L1071.3 704.1L1092.8 711.1L1099 712.8L1108.4 714.6L1125.8 716.8L1143.3 720.1L1157.4 722.5L1162 723.6L1166.5 725L1178.5 729.3L1187.6 732.2L1190.7 732.9L1193.9 733.3L1205.1 733.7L1219.5 734.8L1225.9 735L1232.3 734.7L1245.1 733L1249.9 732.7L1256.3 732.6L1269.1 733.3"/>
<path stroke="#515151" d="M273.2 9L274.1 34.3L274.9 45.7L275.8 55.8L277.8 73.2L279 85.6L284.3 153.1L287.6 190.2L289.9 211.1L292.3 228.8L294.7 241.6L295.9 246.3L297.3 250.9L299 255.3L300.4 258.1L302.2 260.7L303.2 261.8L304.4 262.8L305.7 263.6L307.2 264L308.8 263.6L311.6 261.8L316.3 257.5L319.5 253.9L325.2 246.1L329.7 239.4L333 233.9L335.2 229.6L341.6 214.9L345 207.7L346.6 205L350 199.6L351 198.7L352.6 198.8L353.9 199.9L355.9 202.6L357.1 205.6L360.1 214.7L364 228.6L367.3 242.5L370.3 258.2L372.6 272.2L375.7 294.3L382.8 351.4L385.5 372.1L391.7 413.4L397 445L401.9 471.9L405.5 489.1L409.2 503.1L412.7 513.8L425.4 550L429.8 560.2L432 564.4L436 571.3L440.4 578.1L444.2 583.4L448.4 588.5L452.9 593.4L456.4 596.8L460 599.9L476.9 613.2L480.9 615.8L485.3 617.7L491.5 619.4L497.8 620.4L504.2 620.7L515.3 620.1L521.7 620.2L526.5 620.8L537.7 622.9L542.5 623.4L545.7 623.3L548.9 622.9L560.1 620.8L563.3 620.5L566.5 620.4L569.7 620.8L572.9 621.4L584 624.6L588.7 625.5L593.5 625.7L603 625.2L607.8 625.2L614.2 625.7L622.2 626.9L627 627.2L630.1 627L634.9 626.4L639.6 625.3L649.1 622.6L653.8 621.6L669.5 619.5L686.9 616.4L696.4 615.2L712.4 614L717.2 613.8L722 614.1L726.8 614.7L736.3 616.4L741.1 616.8L745.9 616.6L758.7 614.5L763.5 614.2L768.3 614.5L779.5 616.4L784.3 617L789.1 617L801.9 616.2L806.7 616.3L809.9 616.7L824.1 619.9L838 622.3L842.6 623.3L847.2 624.9L858 629.5L862.6 631.2L868.7 632.8L879.5 634.9L885.7 636.8L900.9 643.2L913.9 648.1L915.3 648.2L917.9 647.2L919.2 647.5L932.3 655.1L946.5 665.2L949.4 666.8L952.4 668.1L955.5 669L958.6 669.5L972.9 670.6L979.2 671.8L982.3 672.8L986.7 674.7L998.2 680.6L1003.9 683.3L1005.4 683.8L1008.3 683.1L1009.8 683.6L1014.3 685.9L1021.9 689.2L1028 691.7L1034.1 693.9L1043.4 696.5L1057.4 699.3L1063.6 700.8L1089.7 708.7L1095.9 710.4L1106.8 712.7L1127.4 715.8L1157.3 721.2L1161.9 722.3L1167.9 724.3L1187.5 731.6L1190.6 732.5L1193.7 733.1L1198.5 733.4L1212.9 733.5L1230.5 734.2L1236.9 733.9L1249.7 732.3L1254.5 732L1260.9 731.9L1268.9 732.4"/>
<path stroke="#F14040" d="M271.7 9L272.7 32.9L273.5 46.1L277 78L282 138.5L285.7 178.6L288.1 199.6L290.6 217.2L293.1 230L295.2 237.7L296.3 240.7L298.2 245.1L299.9 247.7L302 249.9L304.7 251.6L306.3 251.6L307.8 251.2L309.3 250.4L315.6 245.4L317.9 243.1L324.2 235.8L329.1 229.4L331.8 225.5L334.3 221.3L340.8 208.5L343.9 202.9L345.6 200.2L349.4 195.2L350.6 194.2L352.1 194.2L353.4 195.3L355.5 197.9L356.8 200.9L359.7 210L363.6 223.9L367.2 239.4L370.2 255L372.5 269.1L375.5 291.2L382.5 348.3L385.7 372.2L391.4 410.3L396.6 442L401.8 470.3L405.5 487.6L409.2 501.6L412.7 512.2L425.7 548.3L428.2 554.2L431 559.9L437.4 571.1L440.9 576.5L444.9 581.7L449.1 586.8L452.5 590.2L457.2 594.5L466.9 602.1L477.7 611.2L481.7 613.7L484.7 614.8L487.7 615.6L494 616.6L511.5 617.9L525.9 620.5L530.7 621.1L535.5 621.3L538.7 621.2L543.5 620.6L553 618.8L556.2 618.5L559.4 618.5L565.8 619.3L577 621.9L581.7 622.6L584.9 622.7L588.1 622.6L599.2 621.3L604 621.1L608.8 621.5L620 623.2L624.8 623.4L628 623.2L632.7 622.2L637.3 620.6L646.6 616.9L651.3 615.4L655.9 614.4L666.7 613.2L671.3 612.4L677.5 610.6L686.8 607L691.5 605.4L696.2 604.4L700.9 604.2L704.1 604.3L715.3 605.8L720.1 606.1L724.9 606L737.6 605.3L740.8 605.3L745.6 605.7L751.9 606.5L766.3 609.2L785.4 611.4L801.3 614.3L823.1 616.6L827.8 617.5L833.9 619.3L840 621.4L852.3 626.2L858.5 628.3L878.7 633.3L894 638.3L907.6 642.1L914.6 644.8L917.2 644.1L918.5 644L931.5 653.1L944.2 663.4L947 665.4L949.9 666.9L952.9 667.9L955.9 668.5L959.1 668.6L970.1 668.3L973.3 668.5L978 669.5L981.1 670.6L984.1 672L996.9 679.5L1003.9 683.1L1005.4 683.7L1008.3 683L1009.8 683.6L1015.8 686.8L1023.3 690.6L1029.3 693.3L1033.8 695L1038.4 696.5L1043 697.7L1055.4 700.2L1060.1 701.3L1078.4 707.3L1093.7 711.8L1104.6 714.4L1114 716.3L1126.7 718.4L1150.4 721.7L1155.1 722.6L1162.8 724.8L1179.3 731.4L1187 733.7L1190 734.4L1194.8 734.8L1207.6 734.8L1222 735.9L1226.8 736.1L1233.2 735.7L1246 733.6L1252.4 733L1258.8 733.1L1268.4 734"/>
<path stroke="#1A6FDF" d="M273.1 9L274.2 33.8L275.1 46.7L277.9 75.4L282.8 136.1L286 168.2L288.6 190.8L291.4 210L294.2 224.3L295.4 228.9L296.9 233.5L298 236.5L300 240.8L301.7 243.4L303.9 245.7L306.5 247.3L308 247.6L309.6 247.2L311 246.3L316.9 240.8L319.1 238.4L322.9 233.2L329.1 223.9L332.4 218.3L334.6 214L340.9 199.3L343.7 193.6L346.1 189.5L348.9 185.6L350 184.7L351.5 184.7L352.8 185.8L354.9 188.5L356.1 191.5L359.1 200.6L362.5 213L366.1 228.5L369.7 247.3L372 261.3L374.6 280.2L384.4 361.2L386.6 377.2L389.2 394.7L396.4 439L400.9 464.2L405.2 484.7L409 498.6L412.5 509.2L421.9 534.8L425.9 545.2L428.4 551.1L431.3 556.8L434.4 562.3L437.8 567.7L441.5 572.9L444.5 576.7L448.8 581.5L453.4 586.1L459.6 591.4L469.5 598.6L480.6 607.5L483.5 609.3L488.1 611.5L492.8 613L495.9 613.4L500.7 613.1L510.3 611.2L513.5 611L515.1 611.1L519.8 612.1L529.4 615.3L532.6 615.8L535.8 615.9L540.6 615L548.6 612.4L551.8 611.6L556.6 611.1L561.4 611.6L572.6 614.3L578.9 615.3L588.5 615.9L604.4 616.1L614 615.8L622 615.2L634.6 613.6L647 611.9L653.2 610.6L657.9 609.4L662.5 607.8L673.4 603.6L678.1 602.3L682.7 601.5L693.7 600.5L704.8 598.6L709.6 598.2L712.8 598.4L715.9 598.9L727 602.1L731.7 602.9L736.4 603L747.5 602.3L750.7 602.5L753.9 603.1L763.5 606L766.7 606.5L768.3 606.6L771.5 606.4L782.7 604L787.5 603.7L792.3 604.3L800.3 606.1L803.5 606.6L808.3 606.8L816.2 606.5L820.9 606.8L824 607.5L827.1 608.5L839.4 613.4L850 616.5L854.5 618L859 620L868.1 624.6L872.7 626.6L877.2 627.9L887.7 630.1L893.7 631.9L899.7 634.5L913.9 641.5L915.2 641.8L917.7 641.1L919 641.3L930.4 649.2L943.2 659.5L946 661.4L948.8 662.9L951.8 664L954.8 664.6L957.9 664.8L967.4 665.1L972.1 665.7L975.3 666.3L979.9 667.7L985.9 670.4L997.3 676.5L1004.3 679.9L1005.8 680.3L1008.7 679.7L1016.2 683.8L1025.2 688.3L1031.3 690.9L1035.9 692.4L1042 693.8L1054.5 695.6L1059.1 696.6L1063.8 698.1L1079.1 703.8L1092.8 707.9L1102.1 710.3L1110 711.8L1125.8 713.7L1143.2 717.5L1155.7 719.3L1160.3 720.3L1166.3 722.3L1176.7 727L1181.2 728.9L1187.3 731L1190.4 731.7L1195.1 732.2L1206.3 732.4L1219.1 733.3L1225.5 733.5L1233.5 733.2L1247.9 731.6L1252.7 731.3L1259.1 731.4L1268.7 732.1"/>
<path stroke="#37AD6B" d="M273.1 9L274.2 34.1L275.1 46.9L277.8 74L282.7 134.6L286.4 173.2L289 195.7L291.8 214.9L294.2 227.6L295.4 232.4L296.8 237L297.8 240L299.8 244.3L301.4 246.9L303.5 249.2L306.1 250.9L307.6 251.2L309.2 250.9L310.7 250.1L313.2 248L316.7 244.7L318.9 242.3L322.8 237.2L329.2 228L332.5 222.5L334.8 218.2L340.6 205.1L344.2 197.9L345.7 195.2L349.3 190L350.5 189.1L352.1 189.4L353.3 190.5L355.3 193.2L357.1 197.7L358.5 202.3L359.2 205.3L367.4 252.5L372.2 285.6L383.3 366.5L386.2 385.6L389.9 407.8L395.8 439.3L403.2 475.4L405.9 487.9L408.9 498.7L412.9 510.9L422 536.5L426 547L430.6 557.1L433.7 562.7L437 568.3L440.6 573.7L443.6 577.6L447.9 582.6L451.4 586L456.3 590.2L466.5 597.3L476.4 604.9L480.4 607.4L483.3 608.7L487.9 609.7L492.7 610.2L497.5 610.3L508.7 609.7L513.5 609.7L518.3 610.1L529.5 611.3L535.9 611.6L542.3 611.1L553.4 609.3L558.2 609.1L561.4 609.3L566.2 610L577.4 612.4L583.7 613.2L588.5 613.3L601.2 612.9L617.2 613.4L622 613.3L628.3 612.6L656.4 607.8L661.1 606.8L665.8 605.6L679.8 600.9L686.1 599.2L694 597.8L700.3 597.4L703.5 597.4L711.5 598.1L727.4 600.6L733.8 601.3L740.2 601.4L754.6 600.3L761 600.4L780.2 602L807.3 603.5L818.3 604.6L824.5 605.4L832.2 607.1L838.3 609.3L844.4 612.3L856.4 619.1L860.9 621.2L863.9 622.4L868.5 623.8L880.5 626.9L886.5 628.8L907.1 636.2L909.9 637.4L914 639.6L915.3 639.9L917.8 639.4L919.1 639.9L923.2 643.4L941.8 657.8L946 660.5L948.8 662L951.7 663L954.7 663.7L965.7 664.4L970.4 665L973.6 665.6L978.3 667L982.9 668.9L995.8 675.5L1002.8 678.8L1005.7 679.9L1008.7 679.2L1017.6 684.1L1023.7 687L1029.8 689.5L1034.4 691.1L1040.5 692.6L1054.5 695.1L1059.2 696.2L1065.4 698.1L1079.2 702.9L1086.8 705.2L1094.5 707.2L1102.2 708.8L1121.1 712L1138.5 715.5L1152.7 717.8L1157.3 718.8L1160.3 719.7L1164.8 721.4L1179.7 727.9L1188.8 730.8L1195.1 731.5L1203.1 731.4L1207.9 731.7L1220.7 733.2L1225.5 733.5L1231.9 733.2L1244.7 731.2L1251.1 730.5L1257.5 730.7L1268.7 732"/>
<path stroke="#B177DE" d="M273.2 9L274.3 33.5L275.1 46.4L277.8 73.5L282.6 132.7L285.9 166.4L288.7 190.5L291.5 209.7L294 222.4L295.3 227.1L296.7 231.7L298.6 236.1L300.1 238.8L302 241.3L303.1 242.3L305.9 243.8L307.4 243.9L309 243.3L310.3 242.4L316.2 236.9L318.3 234.4L322.1 229.2L328.3 219.8L331.6 214.3L333.8 210L340.1 195.3L343 189.6L345.3 185.5L348.1 181.6L349.1 180.5L350.4 180L352 180.8L354.1 183.3L355 184.8L357.2 190.8L358.8 196.9L363.2 220.5L368.1 248.8L372.7 280.3L384.3 367.6L387.4 388.2L391.1 410.4L396.2 438.8L401 464L405 482.8L408.3 495.2L412.3 507.3L425.3 541.8L427.8 547.6L430.6 553.3L433.7 558.9L437.1 564.3L440.8 569.6L443.8 573.5L448.1 578.5L451.6 582L457.8 587L467.7 594L481 605.6L483.8 607.3L486.8 608.8L491.4 610.3L494.6 610.9L499.3 611.4L508.8 611.4L513.5 611.7L529.5 613.8L534.3 614L537.5 613.9L542.3 613.6L553.5 612.2L559.8 611.9L566.2 612L582.2 613.2L587 613.4L591.8 613.2L609.4 611.3L626.9 610.4L636.3 608.9L654.6 604.8L662.3 602.7L668.4 600.2L679.1 595L685.3 592.7L689.9 591.8L696.2 591.3L702.5 591.4L716.9 592.4L723.1 593.2L734.1 595.2L738.8 595.9L743.6 596.3L751.6 596.4L756.4 596.8L767.6 598.6L772.3 599.2L777.1 599.3L789.9 598.7L793.1 598.9L796.3 599.3L801 600.4L813.6 603.8L818.3 604.7L829 606.2L833.6 607.2L836.7 608.1L842.7 610.5L854.8 616.4L862.3 619.6L880.4 625.5L898.4 632L907.1 635.5L914 639L915.4 639.2L917.9 638.6L919.2 639L921.9 641.2L932.1 648.2L944.7 658.3L947.5 660.2L950.4 661.6L953.4 662.5L956.5 662.9L969.1 662.7L973.8 663.2L976.9 664L980.1 665.1L983.1 666.5L995.9 674L1002.9 677.7L1004.4 678.3L1005.8 678.7L1008.8 678.2L1017.7 683L1022.2 685.1L1026.8 686.9L1031.4 688.4L1036 689.6L1051.5 693L1059.3 695L1096 706.6L1105.3 708.7L1124.3 711.7L1154.2 717L1161.8 719.4L1179.6 727L1187.2 729.5L1191.8 730.4L1194.9 730.8L1207.7 731.3L1222.1 732.8L1226.9 733.1L1233.3 732.8L1246.1 730.9L1252.5 730.4L1258.9 730.6L1268.5 731.6"/>
<path stroke="#CC9900" d="M273.3 9L274.4 33.1L275.2 46.1L277.8 73.2L282.1 127.5L285.3 159.7L288 183.8L290.8 203L293.5 217.3L294.6 222L296.1 226.6L297.2 229.6L299.2 233.9L300.1 235.2L302.1 237.5L304.8 239.1L306.2 239.5L307.8 239.2L309.3 238.3L310.6 237.3L316.2 231.6L318.2 229L324.6 219.8L328 214.3L331.2 208.8L333.4 204.5L339.7 189.7L342.5 184L344.8 179.9L347.7 176.1L348.7 175L350.1 174.5L351.6 175.3L353.8 177.8L354.6 179.3L358.7 191.5L362.1 203.8L365.8 220.9L369 238.1L371.5 253.8L373.9 271.1L384.3 358.5L389.2 393.5L394.8 428.3L399.8 456.8L404.3 478.8L405.8 485.1L407.9 492.8L412 504.9L425.1 539.3L427.7 545.1L430.5 550.9L436.9 561.9L440.4 567.3L444.1 572.6L449.2 578.9L453.6 583.7L460.4 590.3L475.7 603.7L479.5 606.8L482.3 608.5L485.3 609.7L488.5 610.4L493.3 610.8L498 610.5L509.2 608L514 607.4L517.2 607.3L520.4 607.6L531.6 609.1L538 609.2L542.8 608.7L553.9 606.3L557.1 605.9L560.3 605.8L566.7 606.3L579.4 608.9L585.8 609.7L592.1 609.7L601.7 609.1L606.5 608.9L611.3 609.1L620.9 609.8L627.2 609.7L630.4 609.3L635.1 608.4L652.1 603.5L669.2 600.1L684.7 595.5L691 593.9L697.3 592.7L703.6 592.1L710 592.1L724.4 593.6L730.8 593.9L737.2 593.8L750 593L756.4 593.1L762.8 593.7L778.7 596L786.7 596.9L793.1 597.2L804.3 597.1L810.6 597.7L815.3 598.7L829.2 603L841.3 605.6L845.8 607.1L850.3 609.2L860.7 615.8L863.7 617.4L866.6 618.8L871.1 620.3L881.5 622.5L886 623.9L890.4 626L902.1 632.4L914.7 637.6L917.2 637L918.4 636.9L928.3 644L941.1 654.3L943.9 656.2L948.1 658.4L951 659.5L954 660.1L964.9 661.6L971.3 662.8L977.6 664.3L982.2 665.7L986.6 667.4L990.9 669.3L1004.9 676.6L1006.3 676.8L1007.8 676.4L1009.3 676.8L1016.7 681.2L1024.2 685L1031.7 688.2L1037.8 690.2L1043.9 691.7L1054.7 693.8L1059.4 694.9L1064 696.4L1074.7 700.5L1080.8 702.6L1091.5 705.7L1100.7 708L1111.7 710.3L1132.3 713.2L1158.9 718.7L1161.9 719.5L1166.4 721.2L1181.3 727.7L1188.9 730.2L1193.6 730.7L1201.5 730.5L1206.3 730.7L1211.1 731.3L1220.7 732.9L1225.5 733.3L1228.7 733.2L1231.9 732.8L1243.1 730.7L1249.5 730.1L1254.3 730.1L1268.7 731.1"/>
<path stroke="#00CBCC" d="M277.4 9L278.4 32.9L279.1 44.8L281.5 70.3L285.8 126.6L289.1 163.5L291.4 186.1L293.6 203.8L295.8 216.7L296.9 221.4L298.2 226L299.3 229L300.7 231.9L302.5 234.4L303.6 235.4L304.9 236.2L306.4 236.7L308 236.3L309.4 235.5L310.7 234.4L316.3 228.6L318.3 226.1L324.5 216.7L328.7 209.9L333.2 201.4L340.7 183.7L343.6 178L345.3 175.4L348.2 171.7L349.5 171L351.1 171.6L353.3 174.1L354.2 175.6L355.4 178.6L356.9 183.1L358.9 190.8L362.4 208L367.2 234.7L370 252L372.5 269.3L383.7 358.2L389.1 394.8L394.3 426.4L399.4 454.8L403.9 476.8L405.8 484.6L407.4 490.8L409.8 498.5L411.9 504.5L425.1 538.8L427.7 544.7L430.5 550.4L436.9 561.4L440.4 566.7L444.3 571.9L447.5 575.7L451.9 580.5L459 587.1L478.2 603L482.2 605.5L485.2 606.6L489.8 607.9L496.1 609.2L502.4 609.9L513.6 610.7L524.8 611.7L529.6 612L534.4 612L542.4 611.3L551.9 609.4L556.6 608.8L563 608.8L574.1 610.1L580.5 610.3L585.3 609.8L598.1 607.1L602.9 606.5L607.7 606.4L620.5 607.2L626.9 606.9L634.7 605.4L648.7 601.8L664.3 598.2L684.4 593.1L701.8 589.3L706.6 588.9L711.4 588.8L716.1 589.4L719.3 590.2L730.4 593.4L733.6 594L736.8 594.4L739.9 594.4L743.1 594.1L752.7 592.6L757.5 592.3L762.3 592.7L773.5 594.8L778.3 595.4L783.1 595.5L795.9 594.9L799.1 595L803.9 595.6L819.6 599.1L833.4 601.4L839.5 603L845.5 605.4L860.5 612.9L865 614.7L878.6 619.5L892 625.1L908.1 630.6L914.8 633.8L917.3 633.4L918.5 633.5L942.3 652.2L946.4 655.1L949.2 656.8L953.6 658.5L956.6 659.3L972.3 661.3L977 662.3L980.1 663.3L983.1 664.5L987.4 666.7L997.1 672.4L1004.1 676.2L1005.5 676.7L1008.4 676.2L1017.3 681L1024.8 684.6L1032.3 687.7L1039.9 690.2L1046.1 691.9L1057 694.2L1061.6 695.5L1092.1 705.4L1101.4 707.9L1109.2 709.5L1129.7 712.8L1151.8 716.6L1156.4 717.6L1161 719L1164 720.1L1180.3 727.2L1186.4 729.2L1189.4 730L1194.2 730.6L1203.7 730.7L1208.5 731L1221.3 732.7L1227.7 733L1234.1 732.6L1246.9 730.4L1251.7 729.9L1258.1 730L1269.3 731.1"/>
<path stroke="#F14040" d="M273.3 9L274.5 33.4L275.4 47.7L277.4 70L281.4 119.6L284.4 150.2L287.4 175.9L290.5 196.7L293.3 211L294.8 217.2L296.3 221.8L297.4 224.8L299.5 229L301.3 231.6L303.5 233.7L306.4 235L308 234.9L309.5 234.2L310.8 233.2L316.4 227.4L318.4 224.8L321.9 219.5L328.6 208.5L331.7 202.9L333.8 198.5L340.4 182.2L343.2 176.5L344.9 173.8L347.7 170.1L348.9 169.2L350.4 169.3L351.7 170.4L353.8 173L355 176L358.1 185.2L361.5 197.5L365.3 214.6L368.4 231.8L371.2 249.1L373.6 266.4L384 355.3L386.5 374.5L389.3 393.6L394.7 426.8L399.4 453.7L403.9 475.7L405.8 483.5L407.5 489.7L409.9 497.3L412 503.3L425.5 537.6L430.3 547.6L437.5 560.1L441.1 565.6L444.9 570.9L448.9 576L453.2 580.8L457.7 585.1L467 592.9L476.3 601.6L480.2 604.8L483 606.5L487.6 608.3L492.3 609.2L495.5 609.3L500.3 609L509.9 607.8L514.7 607.5L519.5 607.8L530.7 608.8L535.5 608.9L541.9 608.3L553 606.1L557.8 605.8L562.6 606L573.7 607.2L578.5 607.2L583.3 606.7L592.9 604.9L597.7 604.5L600.9 604.5L604.1 604.8L615.3 606.5L618.5 606.7L621.7 606.6L628 605.6L643.6 601.2L660.6 597L665.2 595.6L677.6 591.4L683.8 589.7L688.4 588.7L693.1 588.1L704.2 587.2L710.6 587.2L717 587.4L731.4 588.4L737.7 588.6L744.1 588.6L753.7 588.2L758.5 588.2L763.3 588.5L782.5 590.8L788.8 591.9L807.9 595.6L827.9 598.1L834 599.5L840 601.5L846 604.3L858 610.7L864 613.4L891.1 623.6L905.8 628.7L910 630.5L914 632.6L915.3 632.9L917.7 632.5L919 632.8L921.6 635.1L932.7 643.9L948 658L950.6 660L953.3 661.7L959.1 664.4L972.5 669.2L978.5 671.7L984.1 674.6L997.6 682.8L1004.4 686.5L1005.9 687L1008.8 686.6L1016.1 691.1L1023.5 695.1L1031 698.5L1037 700.7L1043.1 702.4L1060.1 706.5L1077 711.8L1092.4 716.4L1098.6 718L1107.9 719.8L1125.4 722.1L1142.8 725.2L1155.4 726.9L1160.1 727.7L1167.7 729.9L1181.4 734.6L1189.1 736.7L1193.8 737.3L1208.2 737.3L1222.6 738.3L1227.4 738.4L1233.8 737.9L1246.6 735.6L1253 734.9L1259.4 734.9L1269 735.7"/>
<path stroke="#8E8E00" d="M273.3 9L274.5 32.4L275.6 48.5L281.1 117.3L284 146.3L287.1 172L290.2 192.7L291.6 200.7L293.3 208.6L294.9 214.8L296.3 219.4L298.1 223.9L299.5 226.7L301.2 229.3L303.3 231.6L306 233.1L307.5 233.4L309.1 233.1L310.6 232.3L312.9 230L318.2 223.9L321.7 218.5L328.3 207.5L331.4 201.9L333.5 197.5L340.6 179.7L343.5 174L345.1 171.4L348 167.7L349.3 167L350.9 167.7L353.1 170.1L354 171.7L355.1 174.7L358.1 183.8L361.5 196.1L365.2 213.2L368.3 230.4L371.1 247.7L373.5 265L383.9 354L386.6 374.7L389.3 393.8L394.7 427.1L399.5 453.9L404 475.9L405.9 483.7L407.6 489.9L410 497.6L412.1 503.6L425.6 537.8L428.2 543.6L431.1 549.3L437.6 560.3L441.3 565.7L445.2 570.9L449.4 575.9L452.7 579.4L457.4 583.7L466.9 591.3L476.3 599.6L480.1 602.8L482.9 604.6L487.5 606.6L492.2 607.9L495.4 608.3L498.6 608.5L501.8 608.4L513 606.8L517.8 606.5L524.2 606.8L535.4 608.1L541.8 608.2L546.5 607.3L557.6 604.4L563.9 603.5L568.6 603.4L579.8 604.3L584.6 604.3L589.4 603.9L600.6 601.9L607 601.2L611.8 601L624.6 601.3L632.5 600.7L640.3 599.3L655.9 595.4L685.7 588.9L695.1 587.3L703.1 586.6L712.7 586.7L727.1 588L735.1 588.5L752.7 588.5L768.7 589.1L783.1 588.4L789.5 588.6L795.9 589.4L808.6 592.2L813.3 593L830.3 594.5L833.4 595.1L836.4 596L840.9 597.9L845.4 600.4L857.1 608.2L863 611.1L867.4 612.7L876.3 615.4L880.7 617L885 619L898.1 625.8L914.8 633L917.2 632.4L918.5 632.4L931.1 641.7L943.7 652.1L946.4 654.1L949.2 655.7L952.1 656.8L955.1 657.5L969.2 658.8L972.4 659.4L977.1 660.8L981.7 662.8L995.9 670.5L1002.8 673.8L1005.6 674.9L1008.6 674.2L1020.4 680.6L1026.4 683.6L1032.5 686.2L1037 687.8L1043.2 689.4L1055.6 691.8L1060.2 693L1090.7 703.3L1101.5 706.4L1110.9 708.3L1133 711.8L1151.9 715.4L1156.5 716.5L1164 718.9L1180.3 725.6L1187.9 728.2L1191 728.9L1195.7 729.5L1206.9 730.3L1219.7 731.7L1226.1 732.1L1232.5 731.8L1245.3 730.1L1250.1 729.6L1256.5 729.6L1269.3 730.3"/>
<path stroke="#CC9900" d="M274.4 9L275.6 32.5L276.7 48.7L281.9 114.3L285 146.5L288.1 172.2L291.2 193L293.9 207.3L295.5 213.5L297 218.1L298.1 221.1L300.2 225.3L302 227.8L303.1 229L304.3 229.9L305.8 230.5L307.3 231L308.9 230.8L310.3 229.9L311.6 228.9L316.9 222.8L318.9 220.2L324.7 210.7L328.8 203.7L331.7 198L333.7 193.6L340.2 177.3L342.9 171.5L344.5 168.8L347.4 165.1L348.5 164.1L350.1 164.3L351.4 165.4L353.4 168.1L354.7 171.1L357.7 180.2L361.1 192.5L364.5 208L367.7 225.3L370.7 244.1L373.3 263L383.6 352L386.3 372.7L389 391.8L394.1 423.5L399.1 451.9L403.9 475.5L405.7 483.3L407.4 489.5L409.8 497.2L411.9 503.2L425.2 537.5L427.8 543.3L430.7 549L437.2 559.9L440.8 565.2L444.7 570.4L449 575.3L453.6 580L458.4 584.3L469.3 592.5L480.4 601.6L483.3 603.4L487.9 605.6L492.6 607L495.8 607.5L500.5 607.5L510.1 606.1L514.9 605.8L519.7 606.1L529.3 607.2L534.1 607.3L537.3 607L542.1 606.3L551.6 604.2L557.9 603.3L565.8 603L580.2 603.3L588.2 603.1L594.6 602.6L604.2 601.1L609 600.5L613.8 600.3L624.9 600.6L629.7 600.2L632.8 599.5L635.9 598.6L645.2 595L649.8 593.5L654.5 592.5L662.2 591.3L666.9 590.3L671.6 588.9L682.4 585.1L687.1 584L691.8 583.5L696.5 583.3L714 583.2L718.8 583.4L728.4 584.3L733.2 584.4L738 583.9L747.6 582.2L752.4 581.9L757.2 582.4L766.8 585L771.6 586L776.3 586.4L785.9 586.4L790.7 586.9L795.4 588L803.3 590.3L808 591.4L823.4 593.5L826.5 594.2L831 595.5L840.1 599.2L856.6 607.2L862.7 609.8L868.8 611.7L880.9 614.1L885.4 615.3L891.4 617.7L903.2 623.8L914.2 629L915.4 629.1L917.9 628.4L919.1 628.8L930.2 637.3L943.9 649.6L946.6 651.6L949.3 653.2L952.2 654.4L955.1 655.2L964.4 656.6L969.1 657.5L973.8 658.8L978.4 660.4L981.4 661.7L987.2 664.5L1000.9 671.9L1005.1 674L1006.6 673.9L1008 673.6L1009.5 674L1016.9 678.3L1024.3 682.1L1031.9 685.4L1038 687.5L1044.1 689L1055 691.1L1059.6 692.2L1064.3 693.7L1074.9 697.8L1081 700L1090.1 702.8L1097.8 704.8L1110.3 707.5L1127.7 710L1134 711.1L1155.9 715.7L1160.4 717.1L1163.4 718.3L1179.7 725.7L1187.2 728.3L1190.3 729L1195 729.5L1206.2 729.8L1220.6 731.4L1225.4 731.6L1231.8 731.4L1244.6 729.8L1251 729.3L1257.4 729.4L1268.6 730"/>
<path stroke="#6699CC" d="M282.3 9L283.1 31.5L283.8 44.2L286 68.1L290.5 129.1L294.2 174L296.1 193.5L297.5 204.9L299.1 214.6L300.7 220.9L302.5 225.3L304.3 227.7L305.6 228.6L307.1 229L308.7 228.5L310.1 227.6L311.3 226.5L316.6 220.4L318.5 217.8L324.4 208.2L328.4 201.3L331.3 195.6L333.4 191.2L339.8 174.8L342.6 169.1L344.2 166.4L347.1 162.7L348.2 161.7L349.7 161.7L351.1 162.7L352.2 164L353.1 165.4L353.9 166.9L357.9 179L361.3 191.3L364.6 206.9L367.4 222.5L370.4 241.4L373 260.3L383.3 349.2L386.2 371.6L388.9 390.7L393.9 422.4L399 450.8L403.7 474.4L407.2 488.4L409.6 496.1L411.7 502.1L425.2 536.3L427.8 542.1L430.7 547.8L437.1 558.9L440.7 564.2L443.6 568.2L446.7 571.9L450 575.5L454.6 579.9L465.5 589.2L473.7 597.1L477.4 600.2L480.1 602L482.9 603.2L486 603.8L489.1 604L503.5 603.7L524.3 604.1L533.8 603.9L541.8 603.3L553 601.5L559.3 601.1L564.1 601.3L575.3 602.7L580.1 602.9L584.9 602.5L594.4 600.8L599.2 600.4L604 600.6L616.8 603L621.6 603.1L624.8 602.6L627.9 601.8L638.8 597.8L643.4 596.4L661.9 592.2L666.5 590.7L675.7 587.4L681.8 585.5L700.6 581.4L703.8 580.9L708.6 580.4L711.8 580.3L716.6 580.7L727.7 583L734.1 583.7L740.5 583.5L751.7 582L754.9 581.9L758.1 582.1L761.3 582.5L772.5 584.8L778.9 585.8L786.8 586.6L805.9 588.1L812.1 588.9L818.3 590.2L824.4 591.9L832 594.3L842.5 598.1L849.9 601.4L863.2 608.4L869.2 611.2L873.7 612.9L887 617.1L894.4 620.2L907.3 626.9L914 630.7L915.3 630.9L917.7 630.4L919 630.7L921.6 632.7L931.6 639.5L935.9 642.9L942.7 649L946.8 652.2L949.5 654L951 654.7L954 655.6L957 656.2L966.4 656.6L971.1 657.1L974.3 657.8L978.9 659.3L984.9 662.1L997.4 669.1L1004.4 672.6L1005.8 673L1008.7 672.6L1017.6 677.9L1023.6 681.1L1029.6 683.7L1034.1 685.3L1040.2 686.9L1052.6 689.3L1058.8 690.8L1065 692.9L1081.7 699.2L1089.3 701.7L1095.4 703.4L1126.7 709.8L1133 711L1147.2 713L1154.9 714.7L1161 716.9L1177.2 724.2L1181.7 725.8L1189.3 728L1194 728.7L1206.8 729.4L1221.2 731.3L1227.6 731.8L1234 731.5L1246.8 729.5L1253.2 728.9L1259.6 729L1269.2 730"/>
<path stroke="#1A6FDF" d="M289.1 9L290.1 40.5L291 51.1L292.8 66.6L295.2 97.2L298.7 154.4L301.1 207.3L301.9 216.2L303.2 222.8L304.4 225.6L305.5 226.7L307 226.9L308.5 226.2L311 224.1L315.2 219.3L317.2 216.7L324.8 204.4L329.5 196L333 188.8L338.2 175.3L340.1 171L342.3 166.7L343.8 164L346.7 160.3L347.9 159.3L349.3 159.1L350.8 160.1L351.9 161.4L352.9 162.7L353.6 164.2L357.7 176.3L361 188.7L364.1 202.7L366.9 218.3L370.4 240.3L373 259.2L383.2 348.2L386.1 370.5L388.8 389.6L393.8 421.3L398.6 448.1L403.3 471.7L405.1 479.6L407.1 487.3L409.5 495L411.6 501L425.1 535.2L427.8 541L430.6 546.7L437.1 557.6L440.7 562.9L444.7 568L449 572.9L453.6 577.6L458.4 582L467 588.7L476.6 596.9L480.5 599.9L483.4 601.6L486.5 602.8L491.2 604.1L494.4 604.4L499.1 604.2L510.3 602L515.1 601.5L519.9 601.6L531.1 603.4L537.5 603.9L542.3 603.6L555 601.5L559.7 601.1L574 600.8L578.8 600.3L590 598.6L594.8 598.1L602.8 597.8L623.6 597.6L631.4 597.1L636.1 596.4L640.7 595.2L645.4 593.4L653.1 590.2L657.7 588.6L662.4 587.4L674.7 584.9L679.4 583.5L690.2 579.7L693.4 579L696.5 578.5L699.7 578.5L702.8 578.8L712.4 580.5L717.2 581L722 580.9L731.6 579.9L736.3 579.7L752.3 580.7L766.7 581.1L773.1 581.8L784.3 584L789.1 584.8L793.8 585.1L805 585.5L809.7 586L814.4 587L823.6 589.5L834.2 592L840.2 593.9L843.1 595.3L846.1 596.9L857.9 604.7L862.3 607.1L866.8 608.8L878.7 611.6L883.1 613.1L887.5 615L899.1 621L909 625.3L914.3 628.1L915.5 628.2L917.9 627.9L919.2 628.5L921.8 630.8L942.8 648L946.8 650.8L949.6 652.3L952.5 653.5L955.4 654.4L972.6 657.3L977.3 658.4L981.9 659.9L987.7 662.7L1004.2 672.1L1005.6 672.7L1008.5 672.2L1015.9 676.4L1023.4 680.2L1030.9 683.5L1037 685.7L1044.7 687.7L1055.5 689.7L1060.2 690.8L1064.8 692.3L1076.9 696.8L1086 699.9L1093.7 702.3L1099.8 703.9L1110.8 706.3L1132.8 710.1L1157.8 715.4L1160.8 716.2L1165.2 717.8L1169.6 719.8L1181.5 725.4L1187.5 727.9L1190.6 728.7L1195.3 729.2L1203.3 729.2L1208.1 729.4L1222.5 731.5L1227.3 731.8L1230.5 731.6L1233.7 731.2L1244.9 729.1L1249.7 728.6L1256.1 728.8L1268.9 730.3"/>
<path stroke="#FB6501" d="M272.9 9L274.8 41.7L278.3 88.3L280.6 115.8L283.1 140L286.2 165.6L289.3 186.4L292.2 200.6L293.8 206.9L295.2 211.5L296.4 214.4L298.4 218.7L300.2 221.2L302.5 223.3L305.4 224.4L307 224.4L308.5 223.7L309.8 222.7L315.2 216.7L317.1 214.1L320.5 208.7L327.8 196.2L330.7 190.5L332.7 186.1L339.1 169.7L341.9 163.9L343.4 161.2L346.3 157.5L347.4 156.4L348.8 156L350.3 156.9L351.5 158.1L352.5 159.4L353.3 160.9L354.4 163.9L357.4 173L360.7 185.4L363.8 199.4L366.4 213.4L369.8 235.5L372.7 255.9L375.9 282.8L382.9 344.9L386.1 370.4L388.6 387.9L393.3 418L398.3 446.5L403.1 470.1L405.2 479.5L406.9 485.7L409.2 493.3L411.3 499.4L424.8 533.6L427.4 539.4L430.3 545.1L436.6 556.1L440.1 561.5L443 565.4L447 570.5L451.3 575.4L457.1 581.1L472.4 595.5L477.2 599.6L481.1 602.1L484.1 603L487.2 603.5L495.1 603.8L509.5 602.8L514.2 602.7L520.6 603.1L533.4 604.8L538.2 605L541.4 604.8L544.6 604.2L557.2 600.6L563.5 599.6L566.7 599.4L576.2 599.5L579.4 599.4L584.2 598.8L593.8 597.1L598.6 596.6L603.4 596.6L614.6 597.9L617.8 598L621 597.8L624.2 597.2L627.3 596.3L638.2 591.9L644.4 590L649 589L662.9 586.8L667.5 585.6L679.9 581.6L686.1 579.9L695.4 577.9L703.4 576.9L708.2 576.7L713 576.8L727.3 578.3L732.1 578.6L751.2 578.4L756 578.9L765.6 580.5L770.4 581L775.2 581.1L786.4 580.6L791.2 580.9L794.4 581.3L811.8 585.4L816.4 586.1L825.6 587.2L830.1 588L833.2 588.8L837.6 590.5L843.6 593.6L855.3 601.1L859.7 603.6L862.7 605.1L868.6 607.5L881.9 611.8L889.1 614.7L896.4 618.1L906.4 623L914.4 627.6L915.6 627.7L918 627.3L919.3 627.9L921.9 630L930.5 635.9L933.3 638.1L937.5 641.6L942.9 646.4L946.9 649.8L949.7 651.6L951.2 652.3L954.1 653.4L957.1 654.1L971.3 654.9L974.4 655.4L979 656.8L982.1 658.1L985 659.7L996.1 666.6L1002.9 670.4L1005.8 671.6L1008.7 671.1L1016 675.4L1023.4 679.4L1029.4 682.2L1035.5 684.4L1041.5 686L1053.9 688.7L1058.5 689.9L1092 701.6L1099.7 703.9L1107.5 705.5L1120.1 707.3L1126.4 708.4L1142.1 712L1153.1 714L1157.6 715L1160.6 715.9L1165.1 717.6L1176.9 723.1L1181.4 725L1187.4 727.2L1190.4 728L1195.2 728.6L1206.3 729L1220.7 730.7L1225.5 731L1231.9 730.8L1244.7 729.1L1251.1 728.6L1257.5 728.8L1268.7 729.6"/>
<path stroke="#515151" d="M285.3 9L286.2 32.7L286.8 43.3L289.5 73.6L293.5 129.6L297.9 187.9L298.8 197.9L299.8 206.2L301 212.7L302.3 217.4L303.7 220.2L304.6 221.4L305.8 222.2L307.3 222.5L308.9 221.8L310.2 220.8L312.4 218.4L316.5 213.5L318.3 210.8L324.8 199.7L328.6 192.6L332.7 183.9L339.6 166L342.4 160.3L344 157.7L347.1 154.1L348.4 153.5L350 154.2L352.1 156.7L353 158.2L354.2 161.2L356.6 168.8L360.4 182.7L363.5 196.7L366.1 210.7L369.8 234.4L372.6 254.8L375.8 281.7L382.6 342.2L385.7 367.7L388.2 385.2L393.1 416.9L398.1 445.4L403.1 470.6L404.9 478.4L406.9 486.2L409.2 493.8L411.3 499.9L424.9 534.1L427.5 539.9L430.3 545.6L433.4 551.2L437.6 558L441.3 563.4L444.2 567.2L447.4 570.9L450.7 574.4L456.6 579.6L466.4 587L476 595.7L479.9 598.9L482.7 600.6L485.7 601.7L488.9 602.4L492 602.7L496.8 602.7L511.2 601.7L516 601.8L525.6 602.4L530.4 602.4L538.4 601.8L551.1 599.8L555.8 599.3L574.9 599L579.7 598.6L595.7 596.7L613.3 596.4L619.6 595.9L627.6 594.6L644.6 591.2L660 587.7L669.2 584.9L683.1 579.8L689.3 577.7L695.6 576.2L701.9 575.4L708.3 575.4L719.5 576.1L725.9 576.4L741.9 576.2L748.3 576.4L764.2 577.4L778.6 577.7L784.9 578.3L791.3 579.6L805.5 583.6L822.4 587.1L829.9 589.1L834.4 590.7L838.9 592.7L852.2 599.3L858.1 602L864 604.3L876 608.2L880.5 610L908 623.4L914.6 627L918.2 626.6L932.1 636.6L944.3 646.8L947 648.9L949.7 650.6L952.6 651.8L955.6 652.7L958.7 653.2L969.7 654.2L972.8 654.9L977.5 656.3L980.5 657.6L983.5 659.2L996 666.9L1001.4 669.8L1004.2 671L1005.6 671.5L1008.5 670.8L1026.3 680.4L1032.3 683.2L1036.9 684.8L1043 686.3L1053.8 688.3L1060 689.8L1064.6 691.4L1079.8 697.4L1087.4 699.9L1095 702L1102.7 703.7L1123.2 707.6L1156.1 714.6L1160.6 715.9L1165 717.6L1179.8 724.1L1187.3 726.8L1190.3 727.6L1195 728.1L1203 728.3L1207.8 728.7L1222.2 731.1L1228.6 731.6L1231.8 731.5L1235 731.2L1246.2 729L1252.6 728.2L1259 728.4L1268.6 729.3"/>
<path stroke="#B177DE" d="M280.1 9L282 45L286.9 110.4L289.7 142.7L292.4 168.4L294.9 187.7L297.1 200.6L299.5 209.9L300.5 212.9L301.9 215.8L303.7 218.3L304.8 219.3L306.2 219.9L307.8 220.1L309.4 219.6L310.7 218.6L312.9 216.2L317.8 209.8L321.1 204.2L328 191.6L332.7 181.4L339.4 163.4L342.1 157.7L343.7 154.9L346.7 151.3L347.9 150.6L349.5 151.2L351.8 153.6L352.7 155.1L353.9 158.1L356.4 165.7L360.1 179.6L363.3 193.6L365.8 207.6L369.5 231.2L372.6 253.3L375.6 278.6L382.5 340.7L385.9 367.8L388.5 386.9L392.8 413.9L399.2 450.2L403.4 470.6L405.2 478.4L406.9 484.6L409.3 492.3L411.4 498.3L425.2 532.4L427.9 538.2L430.8 543.8L437.4 554.8L441 560.1L443.9 564L447.1 567.7L451.5 572.5L457.4 577.9L465.9 584.8L476.6 594.4L480.5 597.5L483.4 599L488 600.4L492.7 601.1L497.5 601.3L502.3 600.9L510.3 600L515.1 599.7L519.9 599.7L532.7 600.5L537.5 600.4L543.9 599.7L553.4 597.5L559.7 596.6L564.4 596.3L575.6 596.6L580.4 596.5L598 594.7L604.4 594.7L615.6 595.6L621.9 595.5L626.7 594.8L632.9 593.1L648.3 588.2L665.1 583.3L680.4 577.8L686.5 575.9L691.2 574.8L695.9 574L703.8 573.2L711.8 572.8L731 572.4L743.8 571.9L751.8 572L758.2 572.6L772.5 575L790 577L796.3 578.3L810.3 582.4L814.9 583.5L819.5 584.4L828.5 585.4L833 586.1L837.4 587.3L840.4 588.4L843.4 589.9L846.3 591.6L858.1 599.9L864 603.3L870 605.7L881.9 609.1L887.7 611.2L895 614.6L905.1 619.8L909.2 622.1L914.5 625.5L915.7 625.6L918.1 625.4L919.3 626.1L923.3 629.4L934.6 637.3L944 644.6L949.4 648.2L952.3 649.5L955.3 650.5L958.3 651.2L970.8 653.4L975.5 654.6L980.1 656.3L987.4 659.9L996.9 665.5L1003.8 669.3L1005.2 670L1006.6 669.9L1008.1 669.6L1009.5 670.1L1015.4 673.8L1022.8 678L1028.8 680.7L1034.8 682.9L1040.9 684.6L1053.2 687.2L1059.4 688.9L1064 690.5L1079.2 696.3L1091.3 700.4L1097.4 702.2L1106.7 704.3L1131.9 708.5L1149.2 712.1L1155.4 713.6L1162.9 716.3L1179 724L1186.6 726.6L1189.6 727.5L1194.3 728.1L1202.3 728.3L1207.1 728.6L1219.9 730.5L1226.3 731L1232.7 730.7L1245.5 728.5L1251.9 727.9L1258.3 728.2L1269.5 729.4"/>
<path stroke="#6FB802" d="M285.1 9L285.9 30.2L286.7 43L288.6 65.3L292.5 120.5L295.4 155.8L297.6 180L298.8 191.5L300.2 201.3L301.2 206.1L302.1 209.2L303.2 212.2L303.9 213.6L304.7 214.9L305.8 215.8L307.3 216.4L308.9 216.2L310.3 215.3L311.5 214.1L316.5 207.8L318.3 205.1L321.4 199.5L328.1 186.7L332.7 176.5L339.2 158.4L342.7 151.3L345.6 147.5L346.6 146.5L348 146L349.6 146.8L351.7 149.3L352.5 150.8L353.7 153.8L356.1 161.5L360.8 180.1L363.5 192.5L366 206.6L369.3 228.6L372.9 255.4L375.4 275.9L382.2 338L385.7 366.7L388.4 385.9L392.6 412.8L398.4 446L402.8 468L405 477.4L406.6 483.6L409 491.3L411.6 498.8L424.8 531.4L427.5 537.3L430.4 543L436.8 554L440.4 559.4L443.3 563.3L446.3 567L450.7 571.7L457.7 578.2L466.2 585.4L473.2 591.7L478.1 595.7L480.7 597.5L483.6 598.8L488.3 600.2L493 601.1L496.2 601.2L499.4 601.1L504.2 600.2L512.2 598.4L517 598.1L521.8 598.6L533 601.3L537.8 601.5L542.6 600.7L552.1 597.1L556.8 596L561.5 595.9L572.6 597.4L577.4 597.4L580.6 597L590.2 594.8L595 594L599.8 593.6L609.4 593.5L614.2 593.2L628.4 591.7L636.2 590.6L640.8 589.5L643.8 588.5L646.9 587.3L656 583L662.1 580.7L677.3 577L691.1 572.5L697.4 571.1L703.7 570.7L716.5 570.8L726.1 570.6L742.1 570.9L746.9 570.7L753.3 570.1L758.1 570L761.3 570.1L766.1 570.7L781.9 574.3L786.7 575.1L799.3 576.8L807.1 578.2L823.8 582.4L828.3 583.8L832.7 585.5L840.1 589L853.4 596.8L860.8 600.6L866.7 602.9L877.1 606.1L883.1 608.3L888.9 611.1L900.6 617.1L910.3 621.5L914.2 623.5L915.4 623.6L917.8 623L919 623.3L930 631.7L934.3 635.5L943.7 644.3L946.3 646.4L949 648.1L951.8 649.3L954.8 650.1L967.2 651.4L971.9 652.4L976.5 654L981.1 655.9L985.5 658.2L1004.6 669.6L1006.1 669.9L1007.5 669.6L1008.9 669.7L1014.8 673.3L1022.2 677.1L1029.8 680.3L1038.9 683.6L1046.5 685.7L1059 688.1L1065.1 689.7L1071.2 691.8L1086.3 697.7L1095.4 700.5L1111 703.9L1134.6 708.1L1154.9 713.1L1160.9 715L1165.3 716.6L1181.5 723.8L1187.6 726.2L1190.6 727.1L1195.3 727.8L1203.3 727.9L1208.1 728.2L1220.9 730L1225.7 730.4L1232.1 730.2L1244.9 728.2L1249.7 727.9L1254.5 727.9L1268.9 728.9"/>
<path stroke="#00CBCC" d="M285.2 9L286 30L286.7 42.7L288.7 65L292.5 118.7L295.1 150.9L297.5 178.3L298.8 189.8L300.3 199.6L301.9 205.9L303.1 208.8L303.9 210.2L304.9 211.3L306.2 211.9L307.8 212.1L309.3 211.3L311.6 209L316.5 202.5L318.2 199.8L327.8 181.3L332.4 171L338.8 153L342.3 145.8L345.2 142.1L346.3 141.1L347.7 140.7L349.2 141.6L350.4 142.8L351.4 144.1L352.2 145.6L353.9 150.1L355.7 156.2L360.9 178L363.5 190.4L366.5 207.7L369.5 228.1L373.2 256.6L382.8 342.4L385.7 366.3L388.1 383.9L392.3 410.8L397.9 442.4L402.6 466L406.3 481.7L408.6 489.3L411.3 496.9L424.5 529.5L427.1 535.3L430 541L433.1 546.6L437.2 553.4L440.7 558.8L443.6 562.7L446.6 566.5L451 571.3L455.5 575.9L460.2 580.3L472 590.9L476.8 594.7L480.7 597L483.6 598.1L493.1 600L499.5 600.8L502.7 600.8L505.8 600.5L509 599.9L518.6 597.6L523.4 597.1L528.2 597.5L537.8 599.5L542.6 599.9L544.2 599.7L547.3 598.9L558.3 594.6L563 593.5L567.7 593.2L575.6 593.8L580.4 593.7L585.2 593L596.4 590L601.2 589.1L604.4 588.9L607.6 588.9L617.2 589.5L621.9 589.6L626.7 589.3L633 588.3L640.7 586.4L657.6 580.9L674.6 576.4L687 572.7L691.7 571.5L696.4 570.8L712.3 570L725.1 568.9L729.9 568.7L742.7 568.8L753.9 567.9L757.1 567.8L760.3 567.9L763.5 568.4L766.7 569.1L774.6 571.4L779.4 572.3L784.2 572.6L793.7 572.1L798.4 572.4L801.5 573.1L804.7 574.2L814 578.6L818.5 580.4L823.1 581.5L832 582.4L834.9 583L837.9 583.8L840.9 585.1L845.3 587.7L855.5 595.1L858.4 596.9L861.3 598.4L865.7 600.2L877.6 603.9L883.4 606.1L893.6 610.9L905 616.7L909.1 619L914.3 622.3L915.5 622.5L917.8 622.3L919 622.7L921.6 624.9L932.9 633.1L937 636.7L945 644L947.6 646.2L950.4 647.9L953.3 649.2L956.3 650L959.3 650.3L967.1 650.7L970.3 651.1L973.4 651.7L978 653.2L981.1 654.5L984 656.1L996.4 663.6L1004.6 668.2L1006 668.6L1007.4 668.3L1008.9 668.3L1014.7 672.1L1020.6 675.5L1026.6 678.4L1032.6 680.7L1041.8 683.3L1057.3 686.8L1064.9 688.9L1074 692.1L1090.7 698.7L1096.8 700.7L1103 702L1115.5 703.9L1121.8 705.1L1151.6 711.5L1156.2 712.7L1160.7 714.1L1165.1 715.9L1181.3 723.2L1187.3 725.5L1190.3 726.4L1195 727.1L1203 727.2L1207.8 727.5L1212.6 728.2L1222.2 730L1227 730.5L1230.2 730.5L1233.4 730.2L1246.2 727.8L1251 727.3L1257.4 727.4L1268.6 728.6"/>
<path stroke="#7D4E4E" d="M285.2 9L286.6 40.8L288.7 64.8L292.4 117L294.8 147.7L297.2 175.1L298.5 186.6L300 196.4L301.7 202.7L303 205.5L303.8 206.8L305 207.6L306.5 207.9L308.1 207.4L309.4 206.3L310.6 205.1L315.4 198.7L317.1 195.9L326.8 177.5L331.4 167.2L338.3 147.6L341.8 140.5L342.7 139.2L344.8 136.9L345.9 135.9L347.4 135.5L348.9 136.4L350 137.6L351 138.9L351.8 140.4L353.5 144.9L355.3 151L360.4 172.8L363.6 188.4L366.3 204.1L369.1 222.9L373.4 256.1L383.5 346.7L385.9 365.9L388.5 385L392.7 412L398 442L402.4 464.1L404.6 473.5L406.2 479.7L408.6 487.3L411.3 494.8L424.6 525.7L427.4 531.4L431.1 538.4L435.2 545.3L438.7 550.7L442.5 556L445.5 559.8L448.8 563.5L452.3 567L458.3 572.1L468 579.3L479.9 589.2L482.7 591L487.2 592.9L491.9 594.3L496.6 595.3L502.9 596L515.7 596.7L528.5 598.1L534.9 598.4L538.1 598.2L542.8 597.7L552.3 595.6L558.5 594.5L563.2 594.2L572.7 593.8L577.4 593.3L582.2 592.2L593.4 589L598.2 588.2L601.4 587.9L604.6 588L615.8 589.2L619 589.4L623.7 589.1L626.9 588.5L631.6 587.2L643.8 582.5L651.4 579.9L666.7 575.7L687.9 569.1L697.2 566.4L712.8 562.8L729.9 559.3L745.7 555L752.1 554.2L755.3 554.3L758.5 554.7L763.3 555.9L777.4 560.7L795.9 566.2L815.3 573.6L828.3 578L834 580.3L841.3 584L854.2 592.2L860 595.3L865.8 597.7L876.1 601.2L880.4 603L884.8 605.2L897.8 612.5L908.9 617.9L914.1 620.9L915.3 621.2L917.7 620.9L918.9 621.2L922.8 624.5L932.7 632L946.1 643.5L948.7 645.5L951.6 647L954.5 648.2L957.5 649L973.1 651.6L977.7 652.9L980.8 654.1L986.6 657L997.4 663.6L1004.2 667.4L1005.6 668L1008.5 667.5L1015.8 671.9L1021.8 675.1L1027.7 678L1033.8 680.4L1041.4 682.6L1055.3 685.4L1059.9 686.6L1066 688.7L1085.7 696.6L1091.7 698.7L1096.3 700.1L1104.1 701.8L1119.8 704.4L1127.7 705.8L1151.1 710.8L1155.7 712L1163.2 714.7L1179.3 722.2L1186.8 725.1L1189.8 726.1L1194.5 726.8L1207.3 727.6L1221.7 729.4L1226.5 729.8L1229.7 729.8L1234.5 729.5L1245.7 728L1252.1 727.5L1258.5 727.6L1268.1 728.3"/>
<path stroke="#8E8E00" d="M285.2 9L286.7 40.3L288.7 64.3L294.4 142.6L297 171.5L298.3 183L299.8 192.9L301.4 199.2L302.7 202L303.6 203.2L304.8 204L306.4 204.3L307.9 203.7L309.2 202.6L310.3 201.4L315.1 194.9L316.8 192.1L326.3 173.6L329 167.8L331.4 161.8L337.7 143.7L340.4 137.9L341.9 135.2L345.1 131.7L346.4 131L348 131.4L349.2 132.6L351.2 135.3L352.5 138.3L353.9 142.9L356 150.6L361.7 177.1L364.2 189.6L366.1 200.6L368.6 217.8L373.3 254.2L383.6 346.4L385.7 364L388.6 384.7L392.8 411.7L397.7 440.1L402.2 462.2L405.9 477.8L408.3 485.4L411 492.9L424.4 523.7L427.2 529.4L431 536.4L438.6 548.8L442.3 554.2L445.3 558.1L449.7 563.1L453.1 566.6L457.8 570.8L468.6 579.2L480.5 589.9L483.3 591.7L486.4 593.1L489.5 594.1L492.6 594.8L495.7 595.1L498.9 595.1L508.4 594L513.2 594L518 594.7L529.2 597.5L534 598.1L537.2 598L540.4 597.6L543.6 596.9L551.5 594.5L556.2 593.2L565.5 591.5L584.6 589.5L621.3 587.4L629.2 586.4L633.8 585.3L636.9 584.3L652.2 578.8L667.6 574.8L682.9 569.6L689.1 568.1L693.8 567.5L704.8 566.4L720.8 564.6L743.2 563.5L748 563.5L754.4 564L765.6 566.3L770.3 567.1L783 567.9L787.8 568.6L790.9 569.3L800.4 572L805.1 573.1L809.7 573.8L818.8 574.8L823.3 575.6L826.3 576.4L830.7 578L838.1 581.9L854.2 591.7L861.5 595.6L868.8 598.7L880.6 602.6L886.4 604.9L893.6 608.5L909.1 617L914.3 620L915.5 620.2L917.8 619.8L919 620.2L921.5 622.4L931.4 630L943.5 641.1L947.4 644.2L950.2 645.8L953 647L956 647.8L966.8 649.1L973.1 650.2L977.7 651.6L980.8 652.7L986.6 655.7L998.7 663.6L1004.2 666.8L1005.6 667.5L1008.4 667.1L1015.7 671.4L1023.1 675.3L1030.6 678.7L1036.7 681L1044.3 683.1L1055.2 685.1L1059.8 686.3L1064.4 687.9L1079.5 693.8L1091.6 697.7L1100.8 700.3L1111.7 702.8L1125.9 705.1L1132.2 706.4L1155.6 712L1160.1 713.4L1164.5 715.1L1180.6 722.4L1188.1 725.2L1191.2 725.9L1195.9 726.6L1205.5 727.3L1218.3 729.2L1224.7 729.8L1227.9 729.8L1232.7 729.5L1245.5 727.7L1251.9 727.1L1258.3 727.2L1269.5 728"/>
<path stroke="#1A6FDF" d="M288.7 9L290.2 38.8L292.2 71.7L294.1 100.6L296.1 125L297.8 142.9L299.8 159L301.3 168.8L302.3 173.6L303.2 176.6L304.4 179.5L305.3 180.8L306.4 181.6L307.9 182L309.5 181.6L310.9 180.6L312.1 179.5L316.4 174.7L318.3 172.1L327.6 157.1L331.4 150L337.7 135.3L340 131.2L341.8 128.6L344.2 126.6L345.5 125.8L347 125.7L348.4 126.8L349.5 128L350.5 129.3L351.3 130.8L353.4 136.9L354.9 143L362.2 187.1L363.9 198L370.6 251.8L381.4 350.4L384.8 377.6L387.1 393.6L389.7 407.8L392.9 423.6L405.9 478.1L408.2 485.8L410.9 493.3L424.3 524.1L427 529.9L430.8 536.9L438.2 549.3L443.9 557.2L447.1 561L450.4 564.5L456.2 569.9L465.8 578L476.3 588.2L480 591.2L481.3 592.1L484.2 593.3L487.2 594.1L491.9 594.8L498.2 595.3L512.5 595.5L518.9 596.3L528.5 598L533.3 598.6L536.5 598.8L541.3 598.6L544.5 598.1L553.9 595.5L558.5 594.5L564.7 593.8L574.2 593.6L578.9 593L583.7 591.7L593.2 588.4L598 587.3L602.8 586.9L615.6 587.4L618.7 587.2L621.9 586.6L626.6 585.3L639 581.1L652.6 578L658.6 576.4L664.7 574.2L675.4 569.8L681.4 567.5L689.1 565.4L695.3 564.2L701.7 563.6L717.6 562.6L735.1 560.7L743.1 560.3L752.7 560.5L759.1 560.9L767 561.7L773.4 562.7L779.7 564L793.8 567.9L810.8 572.2L830.1 578.7L839 582.3L844.8 585.3L855 591.7L860.9 594.8L865.3 596.6L877.1 600.1L881.5 601.7L885.9 603.7L897.5 609.6L908.7 614.5L913.8 617.5L915.1 618.1L917.4 618L918.6 618.2L923.8 623.1L943 639.6L947 642.6L949.7 644.2L952.5 645.5L955.5 646.5L958.5 647.1L967.9 648.6L972.6 649.5L977.2 650.8L980.3 651.9L983.3 653.3L987.5 655.6L997 661.5L1003.7 665.4L1005.1 666.1L1006.5 666.1L1008 665.8L1009.4 666.2L1016.8 670.7L1024.2 674.7L1030.2 677.4L1034.7 679.1L1040.8 680.8L1053.2 683.1L1059.4 684.6L1064 686.2L1076 691.2L1082.1 693.5L1092.6 697.1L1100.3 699.3L1108.1 701.1L1127 704.4L1142.7 707.9L1153.5 710.2L1156.6 711L1161 712.5L1164 713.7L1178.5 720.9L1183 722.7L1189 724.8L1193.7 725.6L1201.6 726L1206.4 726.5L1219.2 728.8L1225.6 729.4L1232 729.2L1244.8 727.3L1251.2 726.8L1257.6 726.9L1268.8 727.8"/>
<path stroke="#B177DE" d="M284.7 9L286.5 42L288.9 79.8L290.7 105.3L292.7 129.6L294.7 149L296.7 165.1L298.9 178L300.9 185.8L302.6 190.2L304.4 192.7L305.7 193.4L307.2 193.7L308.8 193.3L310.1 192.2L311.2 190.9L315.6 184.2L317.2 181.4L326.6 161L331.3 149.1L337 130.8L339.5 124.9L341 122.1L343 119.7L344.1 118.7L345.5 118L347.1 118.5L348.3 119.6L350.3 122.4L351 123.9L353.9 133L356.7 145.4L363 183.1L365.1 197.3L368.4 222.5L371.9 251L382.3 346.5L385.7 373.6L388 389.6L391.5 410.2L395.5 430.7L402.9 465.1L406 477.6L408.4 485.2L411.2 492.7L424.1 522L426.8 527.7L430.6 534.7L434.7 541.6L438.1 547L443.8 554.8L446.9 558.5L451.4 563.3L457.2 568.7L468 577.5L477.3 586.6L481.2 589.9L484 591.7L487.1 592.9L490.2 593.8L493.3 594.2L498 594.2L506 593.4L510.8 593.1L515.5 593.6L525.1 595.8L528.3 596.3L533.1 596.7L537.9 596.4L542.7 595.8L550.6 594.3L561.4 593L566.1 592.2L583.5 587.9L589.9 586.8L609 584.6L615.4 584.3L626.5 584.3L631.2 583.9L634.3 583.4L640.5 581.7L652.8 577.2L657.4 575.7L669.8 572.5L683.7 568.5L693 566.5L699.3 565.6L710.5 564.5L732.8 563.4L748.8 561.5L753.6 561.4L758.4 561.9L777.5 565.7L796.5 567.9L801.2 568.6L805.9 569.5L809.1 570.4L825.8 576.2L839.2 579.4L842.2 580.3L845.1 581.5L848.1 583L859.9 590.6L864.3 593L867.3 594.2L870.3 595.1L880.8 597.1L883.7 598.1L886.7 599.3L891.1 601.8L901.3 608L913.4 614L914.7 614.5L918.2 614L919.3 614.7L930.3 623.4L943.8 635.7L947.7 638.7L950.4 640.3L953.3 641.5L956.2 642.4L967.1 644.6L973.3 646.1L977.9 647.6L980.9 648.8L988.1 652.5L1004 662.4L1005.4 663.1L1008.3 662.8L1009.7 663.4L1017 667.9L1024.4 672L1030.3 674.8L1036.4 677.2L1044 679.4L1056.3 681.8L1061 683.1L1067 685.3L1077.5 689.7L1085.1 692.7L1091.1 694.9L1095.7 696.3L1103.4 698.1L1120.6 701.4L1136.3 705L1150.3 707.8L1154.9 709L1157.9 710.1L1162.3 712L1173.9 717.9L1178.3 719.9L1187.3 723.1L1190.3 723.9L1195 724.6L1206.1 725.5L1220.5 727.8L1226.9 728.5L1230.1 728.5L1234.9 728.3L1247.7 726.5L1252.5 726.1L1258.9 726.2L1268.5 727.1"/>
<path stroke="#6699CC" d="M284.7 9L285.9 28.4L288.7 80.7L290.1 101.4L291.9 122.5L294 142L296 156.5L298.1 167.7L300.6 177L301.8 180L303.2 182.8L304.2 184L305.3 184.9L306.8 185.4L308.4 185.4L309.8 184.4L310.9 183.1L315.8 174.7L317.2 171.9L326.2 149.6L330.5 137.5L336.1 117.5L337.1 114.5L339.6 108.6L340.4 107.3L342.5 105.1L343.8 104.2L345.3 104.1L346.8 104.8L349.2 107L350.3 108.4L351.8 111.3L353.6 115.7L355.1 120.3L356.5 126.5L358.3 135.8L360.6 149.9L363.4 172.1L367.1 197.3L374.3 259.1L382.7 337.1L386.1 365.8L389.2 388.2L393 412L397.7 438.8L401.8 459.3L405.5 474.9L407.8 482.6L411.2 491.6L423.6 519.3L426.4 525L430.2 532L434.2 538.9L438.5 545.6L442.2 551L445.3 554.9L448.5 558.6L451.9 562.2L456.6 566.5L467.4 575L476.7 583.9L480.5 587.2L483.3 588.8L486.3 590L489.4 590.8L492.5 591.3L497.2 591.6L509.9 591.9L522.7 593.5L527.5 593.9L533.9 593.9L541.9 593.4L560.6 590.3L582.6 585.8L589 584.7L601.7 583.4L620.9 582.3L628.8 581.1L635 579.4L645.7 576L650.3 574.7L654.9 573.7L664.1 572L668.7 570.8L674.9 568.4L685.6 563.5L690.3 561.9L693.4 561.3L698.1 561L707.6 561.5L712.4 561.4L717.2 560.8L729.9 558L733.1 557.6L737.9 557.3L744.3 557.4L758.7 558L765.1 558.5L769.8 559.3L785.7 562.7L798.2 564.6L804.4 565.9L809.1 567.4L818.1 571.1L822.6 572.6L827 573.8L835.8 575.6L840.2 577.1L843.1 578.5L846 580.4L857.6 589.6L860.5 591.5L863.4 593.1L867.9 594.7L878.2 596.7L882.5 598.1L886.9 600.2L896.9 606.7L902.6 609.8L909.4 612.8L914.5 615.4L915.7 615.4L917.9 615.2L919.1 615.7L930 625.6L942 637.1L945.9 640.2L949.8 642.6L952.6 643.7L955.5 644.5L964.7 646.5L969.3 647.8L974 649.3L980.1 651.7L984.4 653.8L988.6 656.1L1004.5 666.2L1005.9 666.7L1008.7 666.6L1014.5 670.5L1020.3 673.9L1026.2 677L1032.2 679.6L1038.1 681.9L1044.2 683.8L1058 687L1064.1 688.9L1070.1 691.3L1083.6 697.2L1089.7 699.5L1092.7 700.4L1097.3 701.6L1114.4 704.7L1131.8 708.7L1150.5 712.3L1155.2 713.4L1162.6 716L1178.8 723.3L1186.3 726.3L1189.3 727.4L1192.4 728L1195.6 728.3L1205.2 728.4L1210 728.6L1214.8 729.2L1224.4 730.8L1229.2 731.2L1232.4 731.2L1235.6 730.9L1248.4 728.5L1253.2 728L1259.6 728.1L1269.2 729.3"/>
</g>
<g fill="#000" stroke="#000">
<path stroke-width="3.6" d="M394.5 186.5V132" fill="none"/><path stroke="none" d="M394.5 113.6L401.4 137.6H387.6Z"/>
<path stroke-width="3.6" d="M873.2 543.8V490" fill="none"/><path stroke="none" d="M873.2 470.8L880.0 495.4H866.4Z"/>
</g>
<g font-family="'Liberation Sans', sans-serif" font-weight="700" fill="#000">
<text x="202.5" y="49.0" font-size="43.5" text-anchor="end">1.2</text>
<text x="202.5" y="187.7" font-size="43.5" text-anchor="end">1.0</text>
<text x="202.5" y="326.5" font-size="43.5" text-anchor="end">0.8</text>
<text x="202.5" y="465.2" font-size="43.5" text-anchor="end">0.6</text>
<text x="202.5" y="604.0" font-size="43.5" text-anchor="end">0.4</text>
<text x="202.5" y="742.8" font-size="43.5" text-anchor="end">0.2</text>
<text x="202.5" y="881.5" font-size="43.5" text-anchor="end">0.0</text>
<text x="733.2" y="931.6" font-size="44.6" text-anchor="middle">400</text>
<text x="1263.7" y="931.6" font-size="44.6" text-anchor="middle">600</text>
<text x="736.5" y="1039.5" font-size="55.5" text-anchor="middle">Wavelength (nm)</text>
<text transform="translate(71.4 405.5) rotate(-90)" font-size="55.5" text-anchor="middle">Absorbance (a. u.)</text>
<text x="430" y="137" font-size="52">260 nm</text>
<text x="669.5" y="523.5" font-size="51.6">400 nm</text>
<text x="1117.8" y="107.8" font-size="51">CO<tspan dy="12.4" dx="1">2</tspan></text>
</g>
</svg>
</body></html>
